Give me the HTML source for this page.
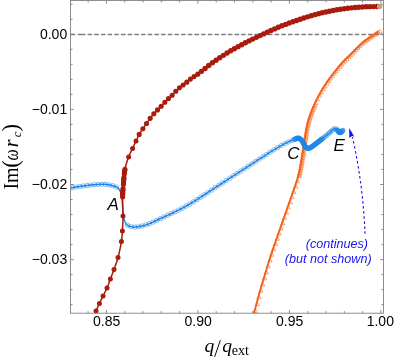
<!DOCTYPE html>
<html><head><meta charset="utf-8"><title>plot</title>
<style>html,body{margin:0;padding:0;background:#fff}svg{display:block;will-change:transform;transform:translateZ(0)}</style></head>
<body>
<svg width="395" height="361" viewBox="0 0 395 361">
<rect width="395" height="361" fill="#fff"/>
<defs><clipPath id="c"><rect x="70.5" y="0" width="313.0" height="313.2"/></clipPath></defs>
<path d="M70.50 34.45 H75.20 M77.80 34.45 H85.40 M87.60 34.45 H92.10 M94.28 34.45 H98.78 M100.96 34.45 H105.46 M107.64 34.45 H112.14 M114.32 34.45 H118.82 M121.00 34.45 H125.50 M127.68 34.45 H132.18 M134.36 34.45 H138.86 M141.04 34.45 H145.54 M147.72 34.45 H152.22 M154.40 34.45 H158.90 M161.08 34.45 H165.58 M167.76 34.45 H172.26 M174.44 34.45 H178.94 M181.12 34.45 H185.62 M187.80 34.45 H192.30 M194.48 34.45 H198.98 M201.16 34.45 H205.66 M207.84 34.45 H212.34 M214.52 34.45 H219.02 M221.20 34.45 H225.70 M227.88 34.45 H232.38 M234.56 34.45 H239.06 M241.24 34.45 H245.74 M247.92 34.45 H252.42 M254.60 34.45 H259.10 M261.28 34.45 H265.78 M267.96 34.45 H272.46 M274.64 34.45 H279.14 M281.32 34.45 H285.82 M288.00 34.45 H292.50 M294.68 34.45 H299.18 M301.36 34.45 H305.86 M308.04 34.45 H312.54 M314.72 34.45 H319.22 M321.40 34.45 H325.90 M328.08 34.45 H332.58 M334.76 34.45 H339.26 M341.44 34.45 H345.94 M348.12 34.45 H352.62 M354.80 34.45 H359.30 M361.48 34.45 H365.98 M368.16 34.45 H372.66 M374.84 34.45 H379.34 M381.52 34.45 H383.50" stroke="#7e7e7e" stroke-width="1.6" fill="none"/>
<g clip-path="url(#c)">
<path d="M254.00 313.20 L254.30 312.09 L254.60 310.97 L254.90 309.86 L255.20 308.74 L255.49 307.62 L255.79 306.50 L256.09 305.38 L256.39 304.26 L256.68 303.14 L256.98 302.02 L257.28 300.91 L257.58 299.79 L257.88 298.68 L258.18 297.57 L258.48 296.46 L258.78 295.36 L259.08 294.26 L259.39 293.17 L259.69 292.08 L260.00 291.00 L260.30 289.97 L260.59 288.94 L260.90 287.90 L261.20 286.86 L261.51 285.82 L261.82 284.78 L262.13 283.75 L262.44 282.71 L262.75 281.68 L263.05 280.66 L263.36 279.64 L263.67 278.64 L263.97 277.64 L264.28 276.65 L264.57 275.67 L264.87 274.71 L265.16 273.76 L265.45 272.82 L265.73 271.90 L266.00 271.00 L266.22 270.29 L266.43 269.58 L266.64 268.89 L266.84 268.22 L267.05 267.55 L267.25 266.88 L267.44 266.23 L267.64 265.58 L267.84 264.94 L268.03 264.31 L268.22 263.67 L268.42 263.04 L268.61 262.42 L268.80 261.79 L269.00 261.16 L269.19 260.54 L269.39 259.91 L269.59 259.27 L269.79 258.64 L270.00 258.00 L270.20 257.37 L270.41 256.75 L270.61 256.13 L270.81 255.51 L271.01 254.89 L271.22 254.28 L271.42 253.67 L271.62 253.06 L271.83 252.45 L272.04 251.84 L272.24 251.22 L272.45 250.61 L272.66 249.99 L272.87 249.37 L273.09 248.74 L273.31 248.10 L273.53 247.46 L273.75 246.82 L273.97 246.16 L274.20 245.50 L274.47 244.73 L274.74 243.95 L275.01 243.16 L275.29 242.37 L275.57 241.57 L275.85 240.77 L276.13 239.95 L276.42 239.14 L276.71 238.32 L277.00 237.49 L277.30 236.66 L277.59 235.82 L277.89 234.98 L278.19 234.14 L278.49 233.29 L278.79 232.44 L279.09 231.58 L279.39 230.72 L279.70 229.86 L280.00 229.00 L280.34 228.04 L280.68 227.07 L281.02 226.09 L281.37 225.10 L281.72 224.10 L282.07 223.09 L282.42 222.08 L282.78 221.06 L283.13 220.04 L283.49 219.02 L283.85 218.00 L284.21 216.97 L284.56 215.96 L284.92 214.94 L285.27 213.93 L285.62 212.93 L285.97 211.93 L286.32 210.94 L286.66 209.97 L287.00 209.00 L287.31 208.12 L287.62 207.24 L287.93 206.37 L288.24 205.51 L288.54 204.65 L288.85 203.79 L289.15 202.94 L289.46 202.09 L289.76 201.24 L290.06 200.40 L290.36 199.56 L290.66 198.72 L290.95 197.88 L291.25 197.04 L291.55 196.20 L291.84 195.37 L292.13 194.53 L292.42 193.69 L292.71 192.84 L293.00 192.00 L293.28 191.17 L293.57 190.35 L293.85 189.53 L294.14 188.71 L294.43 187.89 L294.72 187.08 L295.00 186.26 L295.29 185.45 L295.57 184.63 L295.85 183.82 L296.13 183.00 L296.40 182.18 L296.67 181.36 L296.94 180.53 L297.20 179.71 L297.45 178.88 L297.70 178.04 L297.94 177.20 L298.17 176.35 L298.40 175.50 L298.63 174.60 L298.85 173.70 L299.06 172.79 L299.27 171.87 L299.47 170.94 L299.67 170.01 L299.85 169.07 L300.04 168.13 L300.22 167.19 L300.39 166.25 L300.57 165.31 L300.73 164.37 L300.90 163.43 L301.06 162.50 L301.22 161.57 L301.38 160.64 L301.54 159.72 L301.69 158.80 L301.85 157.90 L302.00 157.00 L302.14 156.17 L302.28 155.35 L302.41 154.52 L302.54 153.70 L302.66 152.88 L302.78 152.07 L302.90 151.25 L303.02 150.44 L303.14 149.63 L303.25 148.83 L303.37 148.02 L303.48 147.23 L303.59 146.43 L303.71 145.64 L303.82 144.86 L303.93 144.07 L304.05 143.30 L304.16 142.53 L304.28 141.76 L304.40 141.00 L304.51 140.31 L304.62 139.63 L304.73 138.94 L304.84 138.25 L304.95 137.56 L305.06 136.87 L305.17 136.19 L305.28 135.51 L305.39 134.83 L305.50 134.16 L305.61 133.50 L305.72 132.84 L305.83 132.20 L305.94 131.56 L306.05 130.93 L306.16 130.32 L306.27 129.72 L306.38 129.13 L306.49 128.56 L306.60 128.00 L306.68 127.60 L306.76 127.22 L306.83 126.84 L306.90 126.48 L306.97 126.13 L307.04 125.78 L307.11 125.44 L307.18 125.11 L307.25 124.78 L307.33 124.45 L307.40 124.13 L307.47 123.80 L307.55 123.47 L307.63 123.14 L307.71 122.80 L307.80 122.46 L307.89 122.11 L307.99 121.75 L308.09 121.38 L308.20 121.00 L308.34 120.50 L308.49 120.00 L308.65 119.48 L308.81 118.96 L308.98 118.43 L309.15 117.89 L309.32 117.35 L309.50 116.80 L309.69 116.25 L309.88 115.69 L310.08 115.13 L310.28 114.56 L310.48 113.99 L310.69 113.42 L310.90 112.85 L311.11 112.28 L311.33 111.71 L311.55 111.14 L311.77 110.57 L312.00 110.00 L312.26 109.37 L312.52 108.73 L312.79 108.09 L313.06 107.44 L313.34 106.79 L313.63 106.14 L313.92 105.48 L314.21 104.82 L314.51 104.16 L314.81 103.50 L315.12 102.84 L315.43 102.18 L315.74 101.52 L316.06 100.87 L316.38 100.21 L316.70 99.56 L317.02 98.91 L317.35 98.27 L317.67 97.63 L318.00 97.00 L318.32 96.38 L318.65 95.76 L318.98 95.15 L319.31 94.53 L319.65 93.92 L319.99 93.31 L320.33 92.71 L320.67 92.10 L321.02 91.50 L321.36 90.89 L321.72 90.30 L322.07 89.70 L322.43 89.10 L322.79 88.51 L323.15 87.92 L323.51 87.33 L323.88 86.74 L324.25 86.16 L324.62 85.58 L325.00 85.00 L325.37 84.43 L325.75 83.86 L326.13 83.30 L326.52 82.74 L326.91 82.18 L327.30 81.63 L327.69 81.08 L328.08 80.53 L328.48 79.98 L328.88 79.43 L329.29 78.89 L329.69 78.34 L330.10 77.80 L330.51 77.26 L330.92 76.71 L331.33 76.17 L331.75 75.63 L332.16 75.09 L332.58 74.54 L333.00 74.00 L333.43 73.44 L333.87 72.88 L334.31 72.32 L334.75 71.75 L335.19 71.18 L335.64 70.61 L336.09 70.05 L336.54 69.48 L337.00 68.91 L337.45 68.35 L337.91 67.79 L338.36 67.23 L338.82 66.68 L339.28 66.13 L339.73 65.59 L340.19 65.06 L340.64 64.53 L341.10 64.01 L341.55 63.50 L342.00 63.00 L342.40 62.56 L342.81 62.12 L343.22 61.69 L343.63 61.26 L344.05 60.84 L344.46 60.42 L344.88 60.00 L345.29 59.59 L345.71 59.18 L346.12 58.78 L346.53 58.38 L346.94 57.98 L347.34 57.59 L347.74 57.21 L348.13 56.83 L348.52 56.45 L348.90 56.08 L349.28 55.72 L349.64 55.36 L350.00 55.00 L350.28 54.72 L350.54 54.46 L350.80 54.19 L351.06 53.94 L351.31 53.68 L351.56 53.44 L351.80 53.19 L352.04 52.95 L352.28 52.71 L352.52 52.47 L352.76 52.23 L352.99 52.00 L353.23 51.76 L353.47 51.52 L353.72 51.27 L353.96 51.03 L354.21 50.78 L354.47 50.52 L354.73 50.26 L355.00 50.00 L355.32 49.68 L355.65 49.35 L355.99 49.02 L356.33 48.68 L356.67 48.33 L357.02 47.98 L357.37 47.63 L357.72 47.27 L358.08 46.91 L358.44 46.56 L358.80 46.20 L359.16 45.85 L359.52 45.50 L359.88 45.15 L360.24 44.81 L360.59 44.47 L360.95 44.14 L361.30 43.82 L361.65 43.50 L362.00 43.20 L362.30 42.94 L362.61 42.68 L362.91 42.43 L363.21 42.19 L363.51 41.94 L363.82 41.70 L364.12 41.46 L364.42 41.23 L364.72 41.00 L365.02 40.77 L365.32 40.55 L365.62 40.32 L365.92 40.10 L366.22 39.88 L366.52 39.67 L366.81 39.45 L367.11 39.24 L367.41 39.02 L367.70 38.81 L368.00 38.60 L368.27 38.41 L368.55 38.21 L368.82 38.03 L369.10 37.84 L369.37 37.65 L369.64 37.47 L369.92 37.29 L370.19 37.11 L370.46 36.94 L370.73 36.76 L371.00 36.58 L371.27 36.41 L371.54 36.23 L371.81 36.06 L372.08 35.88 L372.35 35.71 L372.61 35.53 L372.88 35.36 L373.14 35.18 L373.40 35.00 L373.65 34.83 L373.89 34.66 L374.14 34.49 L374.38 34.32 L374.62 34.15 L374.86 33.98 L375.10 33.81 L375.34 33.64 L375.58 33.47 L375.82 33.30 L376.06 33.13 L376.30 32.96 L376.53 32.79 L376.77 32.62 L377.01 32.45 L377.25 32.28 L377.48 32.11 L377.72 31.94 L377.96 31.77 L378.20 31.60" fill="none" stroke="#f4611b" stroke-width="1.9" stroke-linejoin="round"/>
<path d="M255.40 308.72 L257.56 312.44 L253.24 312.44Z" fill="none" stroke="#f4611b" stroke-width="0.62" stroke-opacity="0.9"/>
<path d="M257.23 301.84 L259.39 305.57 L255.07 305.57Z" fill="none" stroke="#f4611b" stroke-width="0.62" stroke-opacity="0.9"/>
<path d="M259.06 295.02 L261.22 298.74 L256.90 298.74Z" fill="none" stroke="#f4611b" stroke-width="0.62" stroke-opacity="0.9"/>
<path d="M260.89 288.44 L263.05 292.16 L258.73 292.16Z" fill="none" stroke="#f4611b" stroke-width="0.62" stroke-opacity="0.9"/>
<path d="M262.72 282.18 L264.88 285.91 L260.56 285.91Z" fill="none" stroke="#f4611b" stroke-width="0.62" stroke-opacity="0.9"/>
<path d="M264.55 276.12 L266.71 279.85 L262.39 279.85Z" fill="none" stroke="#f4611b" stroke-width="0.62" stroke-opacity="0.9"/>
<path d="M266.38 270.13 L268.54 273.85 L264.22 273.85Z" fill="none" stroke="#f4611b" stroke-width="0.62" stroke-opacity="0.9"/>
<path d="M268.21 264.10 L270.37 267.82 L266.05 267.82Z" fill="none" stroke="#f4611b" stroke-width="0.62" stroke-opacity="0.9"/>
<path d="M270.04 258.14 L272.20 261.87 L267.88 261.87Z" fill="none" stroke="#f4611b" stroke-width="0.62" stroke-opacity="0.9"/>
<path d="M271.87 252.47 L274.03 256.20 L269.71 256.20Z" fill="none" stroke="#f4611b" stroke-width="0.62" stroke-opacity="0.9"/>
<path d="M273.70 247.04 L275.86 250.77 L271.54 250.77Z" fill="none" stroke="#f4611b" stroke-width="0.62" stroke-opacity="0.9"/>
<path d="M275.53 241.72 L277.69 245.44 L273.37 245.44Z" fill="none" stroke="#f4611b" stroke-width="0.62" stroke-opacity="0.9"/>
<path d="M277.36 236.49 L279.52 240.22 L275.20 240.22Z" fill="none" stroke="#f4611b" stroke-width="0.62" stroke-opacity="0.9"/>
<path d="M279.19 231.32 L281.35 235.04 L277.03 235.04Z" fill="none" stroke="#f4611b" stroke-width="0.62" stroke-opacity="0.9"/>
<path d="M281.02 226.12 L283.18 229.85 L278.86 229.85Z" fill="none" stroke="#f4611b" stroke-width="0.62" stroke-opacity="0.9"/>
<path d="M282.85 220.89 L285.01 224.62 L280.69 224.62Z" fill="none" stroke="#f4611b" stroke-width="0.62" stroke-opacity="0.9"/>
<path d="M284.68 215.66 L286.84 219.38 L282.52 219.38Z" fill="none" stroke="#f4611b" stroke-width="0.62" stroke-opacity="0.9"/>
<path d="M286.51 210.43 L288.67 214.15 L284.35 214.15Z" fill="none" stroke="#f4611b" stroke-width="0.62" stroke-opacity="0.9"/>
<path d="M288.34 205.22 L290.50 208.94 L286.18 208.94Z" fill="none" stroke="#f4611b" stroke-width="0.62" stroke-opacity="0.9"/>
<path d="M290.17 200.08 L292.33 203.80 L288.01 203.80Z" fill="none" stroke="#f4611b" stroke-width="0.62" stroke-opacity="0.9"/>
<path d="M292.00 194.94 L294.16 198.66 L289.84 198.66Z" fill="none" stroke="#f4611b" stroke-width="0.62" stroke-opacity="0.9"/>
<path d="M293.83 189.66 L295.99 193.39 L291.67 193.39Z" fill="none" stroke="#f4611b" stroke-width="0.62" stroke-opacity="0.9"/>
<path d="M295.66 184.41 L297.82 188.14 L293.50 188.14Z" fill="none" stroke="#f4611b" stroke-width="0.62" stroke-opacity="0.9"/>
<path d="M297.49 179.05 L299.65 182.77 L295.33 182.77Z" fill="none" stroke="#f4611b" stroke-width="0.62" stroke-opacity="0.9"/>
<path d="M315.79 100.87 L317.95 104.59 L313.63 104.59Z" fill="none" stroke="#f4611b" stroke-width="0.62" stroke-opacity="0.9"/>
<path d="M317.62 97.07 L319.78 100.79 L315.46 100.79Z" fill="none" stroke="#f4611b" stroke-width="0.62" stroke-opacity="0.9"/>
<path d="M319.45 93.52 L321.61 97.24 L317.29 97.24Z" fill="none" stroke="#f4611b" stroke-width="0.62" stroke-opacity="0.9"/>
<path d="M321.28 90.18 L323.44 93.91 L319.12 93.91Z" fill="none" stroke="#f4611b" stroke-width="0.62" stroke-opacity="0.9"/>
<path d="M323.11 87.05 L325.27 90.77 L320.95 90.77Z" fill="none" stroke="#f4611b" stroke-width="0.62" stroke-opacity="0.9"/>
<path d="M324.94 84.09 L327.10 87.81 L322.78 87.81Z" fill="none" stroke="#f4611b" stroke-width="0.62" stroke-opacity="0.9"/>
<path d="M326.77 81.29 L328.93 85.02 L324.61 85.02Z" fill="none" stroke="#f4611b" stroke-width="0.62" stroke-opacity="0.9"/>
<path d="M328.60 78.67 L330.76 82.40 L326.44 82.40Z" fill="none" stroke="#f4611b" stroke-width="0.62" stroke-opacity="0.9"/>
<path d="M330.43 76.17 L332.59 79.90 L328.27 79.90Z" fill="none" stroke="#f4611b" stroke-width="0.62" stroke-opacity="0.9"/>
<path d="M332.26 73.75 L334.42 77.48 L330.10 77.48Z" fill="none" stroke="#f4611b" stroke-width="0.62" stroke-opacity="0.9"/>
<path d="M334.09 71.37 L336.25 75.10 L331.93 75.10Z" fill="none" stroke="#f4611b" stroke-width="0.62" stroke-opacity="0.9"/>
<path d="M335.92 69.02 L338.08 72.75 L333.76 72.75Z" fill="none" stroke="#f4611b" stroke-width="0.62" stroke-opacity="0.9"/>
<path d="M337.75 66.72 L339.91 70.44 L335.59 70.44Z" fill="none" stroke="#f4611b" stroke-width="0.62" stroke-opacity="0.9"/>
<path d="M339.58 64.48 L341.74 68.20 L337.42 68.20Z" fill="none" stroke="#f4611b" stroke-width="0.62" stroke-opacity="0.9"/>
<path d="M341.41 62.32 L343.57 66.04 L339.25 66.04Z" fill="none" stroke="#f4611b" stroke-width="0.62" stroke-opacity="0.9"/>
<path d="M343.24 60.27 L345.40 63.99 L341.08 63.99Z" fill="none" stroke="#f4611b" stroke-width="0.62" stroke-opacity="0.9"/>
<path d="M345.07 58.36 L347.23 62.08 L342.91 62.08Z" fill="none" stroke="#f4611b" stroke-width="0.62" stroke-opacity="0.9"/>
<path d="M346.90 56.54 L349.06 60.27 L344.74 60.27Z" fill="none" stroke="#f4611b" stroke-width="0.62" stroke-opacity="0.9"/>
<path d="M348.73 54.77 L350.89 58.50 L346.57 58.50Z" fill="none" stroke="#f4611b" stroke-width="0.62" stroke-opacity="0.9"/>
<path d="M350.56 52.99 L352.72 56.71 L348.40 56.71Z" fill="none" stroke="#f4611b" stroke-width="0.62" stroke-opacity="0.9"/>
<path d="M352.39 51.15 L354.55 54.88 L350.23 54.88Z" fill="none" stroke="#f4611b" stroke-width="0.62" stroke-opacity="0.9"/>
<path d="M354.22 49.32 L356.38 53.04 L352.06 53.04Z" fill="none" stroke="#f4611b" stroke-width="0.62" stroke-opacity="0.9"/>
<path d="M356.05 47.50 L358.21 51.23 L353.89 51.23Z" fill="none" stroke="#f4611b" stroke-width="0.62" stroke-opacity="0.9"/>
<path d="M357.88 45.67 L360.04 49.39 L355.72 49.39Z" fill="none" stroke="#f4611b" stroke-width="0.62" stroke-opacity="0.9"/>
<path d="M359.71 43.84 L361.87 47.56 L357.55 47.56Z" fill="none" stroke="#f4611b" stroke-width="0.62" stroke-opacity="0.9"/>
<path d="M361.54 42.08 L363.70 45.81 L359.38 45.81Z" fill="none" stroke="#f4611b" stroke-width="0.62" stroke-opacity="0.9"/>
<path d="M363.37 40.47 L365.53 44.19 L361.21 44.19Z" fill="none" stroke="#f4611b" stroke-width="0.62" stroke-opacity="0.9"/>
<path d="M365.20 39.00 L367.36 42.72 L363.04 42.72Z" fill="none" stroke="#f4611b" stroke-width="0.62" stroke-opacity="0.9"/>
<path d="M367.03 37.63 L369.19 41.35 L364.87 41.35Z" fill="none" stroke="#f4611b" stroke-width="0.62" stroke-opacity="0.9"/>
<path d="M368.86 36.31 L371.02 40.03 L366.70 40.03Z" fill="none" stroke="#f4611b" stroke-width="0.62" stroke-opacity="0.9"/>
<path d="M370.69 35.06 L372.85 38.78 L368.53 38.78Z" fill="none" stroke="#f4611b" stroke-width="0.62" stroke-opacity="0.9"/>
<path d="M372.52 33.87 L374.68 37.59 L370.36 37.59Z" fill="none" stroke="#f4611b" stroke-width="0.62" stroke-opacity="0.9"/>
<path d="M374.35 32.65 L376.51 36.37 L372.19 36.37Z" fill="none" stroke="#f4611b" stroke-width="0.62" stroke-opacity="0.9"/>
<path d="M376.18 31.36 L378.34 35.09 L374.02 35.09Z" fill="none" stroke="#f4611b" stroke-width="0.62" stroke-opacity="0.9"/>
<path d="M378.01 30.05 L380.17 33.78 L375.85 33.78Z" fill="none" stroke="#f4611b" stroke-width="0.62" stroke-opacity="0.9"/>
<path d="M379.84 29.35 L382.00 33.07 L377.68 33.07Z" fill="none" stroke="#f4611b" stroke-width="0.62" stroke-opacity="0.9"/>
<path d="M298.97 174.10 L301.13 177.83 L296.82 177.83Z" fill="none" stroke="#f4611b" stroke-width="0.62" stroke-opacity="0.9"/>
<path d="M299.40 172.46 L301.56 176.18 L297.25 176.18Z" fill="none" stroke="#f4611b" stroke-width="0.62" stroke-opacity="0.9"/>
<path d="M299.80 170.80 L301.96 174.53 L297.64 174.53Z" fill="none" stroke="#f4611b" stroke-width="0.62" stroke-opacity="0.9"/>
<path d="M300.17 169.15 L302.33 172.87 L298.01 172.87Z" fill="none" stroke="#f4611b" stroke-width="0.62" stroke-opacity="0.9"/>
<path d="M300.52 167.48 L302.68 171.21 L298.36 171.21Z" fill="none" stroke="#f4611b" stroke-width="0.62" stroke-opacity="0.9"/>
<path d="M300.85 165.81 L303.01 169.54 L298.70 169.54Z" fill="none" stroke="#f4611b" stroke-width="0.62" stroke-opacity="0.9"/>
<path d="M301.17 164.14 L303.32 167.87 L299.01 167.87Z" fill="none" stroke="#f4611b" stroke-width="0.62" stroke-opacity="0.9"/>
<path d="M301.47 162.47 L303.63 166.20 L299.32 166.20Z" fill="none" stroke="#f4611b" stroke-width="0.62" stroke-opacity="0.9"/>
<path d="M301.77 160.80 L303.92 164.52 L299.61 164.52Z" fill="none" stroke="#f4611b" stroke-width="0.62" stroke-opacity="0.9"/>
<path d="M302.06 159.12 L304.21 162.85 L299.90 162.85Z" fill="none" stroke="#f4611b" stroke-width="0.62" stroke-opacity="0.9"/>
<path d="M302.34 157.45 L304.50 161.17 L300.18 161.17Z" fill="none" stroke="#f4611b" stroke-width="0.62" stroke-opacity="0.9"/>
<path d="M302.63 155.77 L304.78 159.49 L300.47 159.49Z" fill="none" stroke="#f4611b" stroke-width="0.62" stroke-opacity="0.9"/>
<path d="M302.91 154.09 L305.07 157.82 L300.76 157.82Z" fill="none" stroke="#f4611b" stroke-width="0.62" stroke-opacity="0.9"/>
<path d="M303.19 152.42 L305.34 156.14 L301.03 156.14Z" fill="none" stroke="#f4611b" stroke-width="0.62" stroke-opacity="0.9"/>
<path d="M303.45 150.74 L305.60 154.46 L301.29 154.46Z" fill="none" stroke="#f4611b" stroke-width="0.62" stroke-opacity="0.9"/>
<path d="M303.70 149.06 L305.85 152.78 L301.54 152.78Z" fill="none" stroke="#f4611b" stroke-width="0.62" stroke-opacity="0.9"/>
<path d="M303.94 147.37 L306.10 151.10 L301.78 151.10Z" fill="none" stroke="#f4611b" stroke-width="0.62" stroke-opacity="0.9"/>
<path d="M304.18 145.69 L306.34 149.41 L302.02 149.41Z" fill="none" stroke="#f4611b" stroke-width="0.62" stroke-opacity="0.9"/>
<path d="M304.42 144.01 L306.57 147.73 L302.26 147.73Z" fill="none" stroke="#f4611b" stroke-width="0.62" stroke-opacity="0.9"/>
<path d="M304.66 142.32 L306.82 146.05 L302.50 146.05Z" fill="none" stroke="#f4611b" stroke-width="0.62" stroke-opacity="0.9"/>
<path d="M304.91 140.64 L307.06 144.37 L302.75 144.37Z" fill="none" stroke="#f4611b" stroke-width="0.62" stroke-opacity="0.9"/>
<path d="M305.17 138.96 L307.32 142.69 L303.01 142.69Z" fill="none" stroke="#f4611b" stroke-width="0.62" stroke-opacity="0.9"/>
<path d="M305.43 137.28 L307.59 141.01 L303.28 141.01Z" fill="none" stroke="#f4611b" stroke-width="0.62" stroke-opacity="0.9"/>
<path d="M305.70 135.60 L307.86 139.33 L303.55 139.33Z" fill="none" stroke="#f4611b" stroke-width="0.62" stroke-opacity="0.9"/>
<path d="M305.97 133.93 L308.13 137.65 L303.82 137.65Z" fill="none" stroke="#f4611b" stroke-width="0.62" stroke-opacity="0.9"/>
<path d="M306.24 132.25 L308.40 135.97 L304.09 135.97Z" fill="none" stroke="#f4611b" stroke-width="0.62" stroke-opacity="0.9"/>
<path d="M306.52 130.57 L308.68 134.30 L304.37 134.30Z" fill="none" stroke="#f4611b" stroke-width="0.62" stroke-opacity="0.9"/>
<path d="M306.81 128.90 L308.97 132.62 L304.66 132.62Z" fill="none" stroke="#f4611b" stroke-width="0.62" stroke-opacity="0.9"/>
<path d="M307.12 127.22 L309.27 130.95 L304.96 130.95Z" fill="none" stroke="#f4611b" stroke-width="0.62" stroke-opacity="0.9"/>
<path d="M307.44 125.55 L309.59 129.28 L305.28 129.28Z" fill="none" stroke="#f4611b" stroke-width="0.62" stroke-opacity="0.9"/>
<path d="M307.77 123.89 L309.93 127.61 L305.62 127.61Z" fill="none" stroke="#f4611b" stroke-width="0.62" stroke-opacity="0.9"/>
<path d="M308.12 122.22 L310.28 125.95 L305.96 125.95Z" fill="none" stroke="#f4611b" stroke-width="0.62" stroke-opacity="0.9"/>
<path d="M308.51 120.57 L310.67 124.29 L306.35 124.29Z" fill="none" stroke="#f4611b" stroke-width="0.62" stroke-opacity="0.9"/>
<path d="M308.95 118.93 L311.11 122.65 L306.79 122.65Z" fill="none" stroke="#f4611b" stroke-width="0.62" stroke-opacity="0.9"/>
<path d="M309.43 117.30 L311.59 121.02 L307.27 121.02Z" fill="none" stroke="#f4611b" stroke-width="0.62" stroke-opacity="0.9"/>
<path d="M309.94 115.67 L312.09 119.40 L307.78 119.40Z" fill="none" stroke="#f4611b" stroke-width="0.62" stroke-opacity="0.9"/>
<path d="M310.47 114.06 L312.63 117.78 L308.31 117.78Z" fill="none" stroke="#f4611b" stroke-width="0.62" stroke-opacity="0.9"/>
<path d="M311.03 112.45 L313.18 116.18 L308.87 116.18Z" fill="none" stroke="#f4611b" stroke-width="0.62" stroke-opacity="0.9"/>
<path d="M311.60 110.85 L313.76 114.58 L309.45 114.58Z" fill="none" stroke="#f4611b" stroke-width="0.62" stroke-opacity="0.9"/>
<path d="M312.20 109.26 L314.36 112.99 L310.05 112.99Z" fill="none" stroke="#f4611b" stroke-width="0.62" stroke-opacity="0.9"/>
<path d="M312.83 107.68 L314.98 111.41 L310.67 111.41Z" fill="none" stroke="#f4611b" stroke-width="0.62" stroke-opacity="0.9"/>
<path d="M313.47 106.11 L315.63 109.83 L311.32 109.83Z" fill="none" stroke="#f4611b" stroke-width="0.62" stroke-opacity="0.9"/>
<path d="M314.14 104.54 L316.30 108.27 L311.98 108.27Z" fill="none" stroke="#f4611b" stroke-width="0.62" stroke-opacity="0.9"/>
<path d="M314.82 102.99 L316.98 106.71 L312.67 106.71Z" fill="none" stroke="#f4611b" stroke-width="0.62" stroke-opacity="0.9"/>
<path d="M70.70 187.90 L71.32 187.80 L71.94 187.71 L72.56 187.61 L73.18 187.51 L73.80 187.42 L74.41 187.32 L75.02 187.22 L75.64 187.12 L76.25 187.02 L76.87 186.92 L77.49 186.83 L78.11 186.73 L78.73 186.63 L79.36 186.54 L79.99 186.45 L80.62 186.35 L81.26 186.26 L81.90 186.17 L82.55 186.09 L83.20 186.00 L83.93 185.91 L84.68 185.81 L85.45 185.71 L86.23 185.62 L87.01 185.52 L87.81 185.42 L88.61 185.33 L89.42 185.23 L90.23 185.14 L91.03 185.05 L91.83 184.96 L92.62 184.88 L93.40 184.80 L94.17 184.73 L94.93 184.66 L95.67 184.59 L96.39 184.53 L97.08 184.48 L97.76 184.44 L98.40 184.40 L98.84 184.38 L99.26 184.36 L99.68 184.33 L100.09 184.32 L100.48 184.30 L100.87 184.28 L101.25 184.27 L101.63 184.26 L102.00 184.25 L102.37 184.24 L102.73 184.24 L103.09 184.24 L103.45 184.25 L103.81 184.25 L104.17 184.27 L104.53 184.28 L104.89 184.31 L105.25 184.33 L105.62 184.36 L106.00 184.40 L106.38 184.44 L106.77 184.49 L107.17 184.54 L107.56 184.60 L107.96 184.66 L108.36 184.72 L108.75 184.79 L109.15 184.86 L109.55 184.94 L109.94 185.02 L110.34 185.10 L110.72 185.19 L111.11 185.28 L111.49 185.38 L111.86 185.47 L112.22 185.57 L112.58 185.68 L112.93 185.78 L113.27 185.89 L113.60 186.00 L113.86 186.09 L114.12 186.18 L114.37 186.27 L114.62 186.36 L114.87 186.45 L115.12 186.54 L115.36 186.64 L115.60 186.73 L115.83 186.83 L116.06 186.93 L116.29 187.04 L116.51 187.15 L116.72 187.26 L116.94 187.38 L117.14 187.50 L117.35 187.63 L117.54 187.76 L117.73 187.90 L117.92 188.05 L118.10 188.20 L118.27 188.35 L118.43 188.50 L118.58 188.66 L118.73 188.82 L118.88 188.99 L119.02 189.16 L119.15 189.33 L119.28 189.51 L119.41 189.69 L119.53 189.88 L119.65 190.07 L119.77 190.27 L119.88 190.47 L119.99 190.67 L120.10 190.88 L120.20 191.09 L120.31 191.31 L120.41 191.54 L120.50 191.77 L120.60 192.00 L120.72 192.32 L120.84 192.66 L120.95 193.00 L121.05 193.36 L121.14 193.73 L121.23 194.10 L121.31 194.49 L121.38 194.88 L121.46 195.28 L121.52 195.69 L121.59 196.10 L121.65 196.52 L121.71 196.94 L121.77 197.37 L121.82 197.80 L121.88 198.24 L121.93 198.68 L121.99 199.12 L122.04 199.56 L122.10 200.00 L122.17 200.55 L122.23 201.11 L122.29 201.70 L122.34 202.29 L122.39 202.90 L122.43 203.52 L122.47 204.14 L122.51 204.78 L122.55 205.41 L122.58 206.05 L122.62 206.68 L122.66 207.31 L122.69 207.94 L122.73 208.56 L122.77 209.17 L122.81 209.77 L122.85 210.35 L122.90 210.92 L122.95 211.47 L123.00 212.00 L123.04 212.39 L123.08 212.78 L123.11 213.16 L123.15 213.54 L123.18 213.91 L123.21 214.27 L123.24 214.63 L123.28 214.98 L123.31 215.33 L123.35 215.68 L123.39 216.02 L123.43 216.36 L123.48 216.70 L123.53 217.03 L123.59 217.36 L123.66 217.69 L123.73 218.02 L123.81 218.35 L123.90 218.67 L124.00 219.00 L124.10 219.31 L124.21 219.63 L124.31 219.95 L124.42 220.28 L124.54 220.60 L124.66 220.92 L124.78 221.24 L124.91 221.56 L125.04 221.87 L125.18 222.18 L125.33 222.49 L125.48 222.78 L125.64 223.07 L125.81 223.35 L125.99 223.62 L126.17 223.88 L126.36 224.13 L126.57 224.37 L126.78 224.59 L127.00 224.80 L127.23 224.99 L127.47 225.17 L127.72 225.35 L127.98 225.51 L128.25 225.66 L128.53 225.81 L128.82 225.94 L129.11 226.07 L129.42 226.18 L129.72 226.29 L130.04 226.39 L130.35 226.49 L130.67 226.58 L131.00 226.65 L131.33 226.73 L131.66 226.79 L131.99 226.85 L132.33 226.91 L132.66 226.96 L133.00 227.00 L133.41 227.04 L133.82 227.07 L134.25 227.08 L134.68 227.08 L135.12 227.07 L135.57 227.04 L136.03 227.01 L136.49 226.97 L136.95 226.91 L137.42 226.85 L137.89 226.79 L138.35 226.71 L138.82 226.63 L139.29 226.55 L139.75 226.46 L140.21 226.37 L140.67 226.28 L141.12 226.19 L141.56 226.09 L142.00 226.00 L142.41 225.91 L142.82 225.81 L143.23 225.71 L143.63 225.60 L144.03 225.49 L144.43 225.38 L144.82 225.26 L145.21 225.14 L145.61 225.01 L146.00 224.88 L146.39 224.75 L146.78 224.61 L147.18 224.47 L147.57 224.33 L147.97 224.18 L148.37 224.03 L148.77 223.88 L149.17 223.72 L149.59 223.56 L150.00 223.40 L150.48 223.21 L150.96 223.01 L151.45 222.80 L151.94 222.59 L152.44 222.37 L152.93 222.15 L153.43 221.92 L153.93 221.68 L154.44 221.45 L154.94 221.21 L155.45 220.97 L155.96 220.72 L156.46 220.48 L156.97 220.23 L157.48 219.99 L157.99 219.75 L158.49 219.51 L159.00 219.27 L159.50 219.03 L160.00 218.80 L160.50 218.57 L161.00 218.34 L161.50 218.11 L161.99 217.89 L162.49 217.66 L162.99 217.43 L163.49 217.20 L163.98 216.98 L164.48 216.75 L164.98 216.52 L165.48 216.30 L165.98 216.07 L166.47 215.84 L166.97 215.61 L167.48 215.38 L167.98 215.14 L168.48 214.91 L168.99 214.68 L169.49 214.44 L170.00 214.20 L170.53 213.95 L171.07 213.70 L171.60 213.45 L172.14 213.20 L172.69 212.94 L173.23 212.69 L173.77 212.43 L174.32 212.18 L174.86 211.92 L175.41 211.66 L175.96 211.40 L176.50 211.14 L177.04 210.88 L177.59 210.62 L178.13 210.35 L178.67 210.08 L179.21 209.82 L179.74 209.55 L180.27 209.27 L180.80 209.00 L181.32 208.73 L181.83 208.45 L182.35 208.18 L182.86 207.90 L183.38 207.62 L183.89 207.34 L184.40 207.06 L184.91 206.77 L185.42 206.49 L185.92 206.20 L186.43 205.91 L186.93 205.62 L187.43 205.33 L187.93 205.05 L188.43 204.75 L188.93 204.46 L189.43 204.17 L189.92 203.88 L190.41 203.59 L190.90 203.30 L191.36 203.02 L191.82 202.75 L192.26 202.48 L192.70 202.21 L193.13 201.95 L193.56 201.68 L193.99 201.42 L194.41 201.16 L194.84 200.89 L195.27 200.62 L195.70 200.35 L196.13 200.07 L196.58 199.79 L197.03 199.50 L197.49 199.21 L197.96 198.90 L198.45 198.59 L198.95 198.27 L199.47 197.94 L200.00 197.60 L200.83 197.07 L201.70 196.51 L202.58 195.94 L203.50 195.34 L204.44 194.73 L205.40 194.11 L206.38 193.47 L207.38 192.81 L208.41 192.14 L209.44 191.46 L210.49 190.78 L211.56 190.08 L212.64 189.37 L213.73 188.66 L214.82 187.94 L215.93 187.22 L217.04 186.49 L218.16 185.76 L219.28 185.03 L220.40 184.30 L221.78 183.40 L223.20 182.48 L224.64 181.54 L226.10 180.59 L227.59 179.62 L229.09 178.64 L230.61 177.65 L232.15 176.65 L233.69 175.65 L235.25 174.64 L236.82 173.62 L238.38 172.60 L239.95 171.58 L241.53 170.57 L243.09 169.55 L244.65 168.55 L246.21 167.54 L247.75 166.55 L249.28 165.57 L250.80 164.60 L252.29 163.65 L253.81 162.67 L255.35 161.68 L256.91 160.67 L258.48 159.66 L260.06 158.63 L261.64 157.61 L263.23 156.59 L264.80 155.58 L266.36 154.58 L267.89 153.60 L269.41 152.64 L270.89 151.70 L272.34 150.79 L273.75 149.92 L275.12 149.08 L276.43 148.29 L277.68 147.54 L278.88 146.84 L280.00 146.20 L280.61 145.86 L281.21 145.53 L281.79 145.21 L282.36 144.91 L282.91 144.61 L283.46 144.33 L283.99 144.06 L284.50 143.79 L285.01 143.54 L285.51 143.30 L285.99 143.06 L286.47 142.83 L286.94 142.61 L287.39 142.39 L287.84 142.18 L288.29 141.98 L288.72 141.78 L289.16 141.58 L289.58 141.39 L290.00 141.20 L290.29 141.07 L290.57 140.95 L290.85 140.83 L291.12 140.71 L291.39 140.60 L291.65 140.49 L291.91 140.38 L292.17 140.28 L292.42 140.18 L292.67 140.08 L292.91 139.99 L293.15 139.89 L293.39 139.80 L293.63 139.71 L293.86 139.62 L294.09 139.54 L294.32 139.45 L294.55 139.37 L294.78 139.28 L295.00 139.20 L295.18 139.13 L295.35 139.06 L295.52 138.99 L295.69 138.91 L295.85 138.83 L296.02 138.75 L296.18 138.67 L296.34 138.60 L296.50 138.52 L296.66 138.45 L296.81 138.38 L296.97 138.32 L297.12 138.26 L297.28 138.21 L297.43 138.17 L297.59 138.14 L297.74 138.11 L297.89 138.10 L298.05 138.09 L298.20 138.10 L298.36 138.12 L298.51 138.15 L298.67 138.19 L298.83 138.24 L298.99 138.30 L299.15 138.36 L299.30 138.44 L299.46 138.52 L299.62 138.60 L299.77 138.69 L299.92 138.79 L300.08 138.89 L300.23 139.00 L300.37 139.11 L300.52 139.22 L300.66 139.33 L300.80 139.45 L300.94 139.57 L301.07 139.68 L301.20 139.80 L301.33 139.93 L301.46 140.06 L301.59 140.20 L301.71 140.34 L301.83 140.49 L301.94 140.64 L302.06 140.80 L302.17 140.96 L302.28 141.12 L302.38 141.28 L302.49 141.45 L302.59 141.62 L302.69 141.79 L302.79 141.97 L302.89 142.14 L302.99 142.31 L303.10 142.48 L303.20 142.66 L303.30 142.83 L303.40 143.00 L303.51 143.18 L303.61 143.37 L303.71 143.56 L303.80 143.76 L303.90 143.96 L303.99 144.17 L304.08 144.37 L304.18 144.58 L304.27 144.79 L304.36 144.99 L304.45 145.20 L304.54 145.40 L304.64 145.59 L304.74 145.79 L304.84 145.97 L304.94 146.16 L305.05 146.33 L305.16 146.50 L305.28 146.65 L305.40 146.80 L305.50 146.92 L305.61 147.04 L305.72 147.15 L305.83 147.27 L305.94 147.38 L306.05 147.49 L306.17 147.60 L306.29 147.70 L306.40 147.80 L306.52 147.90 L306.65 147.99 L306.77 148.08 L306.89 148.16 L307.02 148.23 L307.15 148.30 L307.27 148.35 L307.40 148.40 L307.53 148.45 L307.67 148.48 L307.80 148.50 L307.95 148.51 L308.09 148.51 L308.24 148.50 L308.39 148.48 L308.55 148.45 L308.70 148.41 L308.86 148.36 L309.01 148.31 L309.17 148.25 L309.33 148.18 L309.50 148.10 L309.66 148.03 L309.82 147.94 L309.99 147.86 L310.15 147.77 L310.32 147.67 L310.49 147.58 L310.66 147.49 L310.83 147.39 L311.00 147.30 L311.23 147.17 L311.46 147.03 L311.70 146.88 L311.93 146.73 L312.17 146.57 L312.41 146.40 L312.65 146.22 L312.89 146.04 L313.13 145.85 L313.38 145.66 L313.63 145.47 L313.88 145.27 L314.14 145.07 L314.39 144.86 L314.65 144.65 L314.92 144.44 L315.18 144.23 L315.45 144.02 L315.72 143.81 L316.00 143.60 L316.36 143.33 L316.73 143.05 L317.11 142.76 L317.50 142.46 L317.90 142.16 L318.31 141.85 L318.72 141.54 L319.13 141.22 L319.55 140.90 L319.97 140.58 L320.39 140.25 L320.80 139.93 L321.22 139.60 L321.64 139.28 L322.05 138.96 L322.45 138.64 L322.85 138.32 L323.24 138.01 L323.63 137.70 L324.00 137.40 L324.32 137.14 L324.65 136.87 L324.97 136.60 L325.29 136.34 L325.61 136.07 L325.93 135.80 L326.24 135.53 L326.55 135.27 L326.86 135.00 L327.17 134.74 L327.47 134.48 L327.77 134.22 L328.06 133.97 L328.36 133.71 L328.64 133.47 L328.92 133.22 L329.20 132.98 L329.47 132.75 L329.74 132.52 L330.00 132.30 L330.19 132.13 L330.38 131.97 L330.57 131.80 L330.75 131.64 L330.93 131.47 L331.11 131.31 L331.29 131.14 L331.46 130.98 L331.64 130.83 L331.81 130.67 L331.97 130.52 L332.14 130.37 L332.30 130.23 L332.46 130.09 L332.62 129.96 L332.78 129.84 L332.94 129.72 L333.09 129.60 L333.25 129.50 L333.40 129.40 L333.50 129.34 L333.60 129.27 L333.70 129.21 L333.80 129.15 L333.90 129.09 L334.00 129.03 L334.09 128.97 L334.19 128.92 L334.28 128.87 L334.38 128.82 L334.47 128.78 L334.56 128.74 L334.65 128.70 L334.75 128.67 L334.84 128.64 L334.93 128.62 L335.02 128.61 L335.11 128.60 L335.21 128.60 L335.30 128.60 L335.40 128.61 L335.49 128.63 L335.59 128.66 L335.69 128.69 L335.79 128.73 L335.89 128.78 L335.98 128.83 L336.08 128.89 L336.18 128.95 L336.28 129.02 L336.37 129.09 L336.47 129.16 L336.56 129.24 L336.66 129.31 L336.75 129.39 L336.84 129.47 L336.93 129.56 L337.02 129.64 L337.11 129.72 L337.20 129.80 L337.30 129.90 L337.40 130.01 L337.49 130.12 L337.58 130.25 L337.67 130.38 L337.76 130.51 L337.84 130.65 L337.93 130.79 L338.01 130.93 L338.10 131.08 L338.18 131.22 L338.27 131.35 L338.36 131.49 L338.44 131.61 L338.53 131.74 L338.62 131.85 L338.71 131.95 L338.80 132.05 L338.90 132.13 L339.00 132.20 L339.08 132.24 L339.15 132.29 L339.23 132.33 L339.31 132.36 L339.39 132.39 L339.47 132.43 L339.55 132.45 L339.64 132.48 L339.72 132.50 L339.80 132.51 L339.89 132.53 L339.97 132.54 L340.05 132.55 L340.13 132.55 L340.21 132.55 L340.29 132.55 L340.37 132.54 L340.45 132.53 L340.53 132.52 L340.60 132.50 L340.68 132.48 L340.75 132.44 L340.83 132.40 L340.90 132.36 L340.98 132.31 L341.05 132.25 L341.12 132.19 L341.20 132.13 L341.27 132.06 L341.34 131.99 L341.41 131.92 L341.47 131.85 L341.54 131.78 L341.61 131.70 L341.68 131.63 L341.74 131.56 L341.81 131.49 L341.87 131.42 L341.94 131.36 L342.00 131.30 L342.05 131.25 L342.11 131.20 L342.16 131.15 L342.21 131.10 L342.26 131.05 L342.32 131.00 L342.37 130.95 L342.42 130.90 L342.46 130.85 L342.51 130.80 L342.56 130.75 L342.61 130.70 L342.66 130.65 L342.71 130.60 L342.75 130.55 L342.80 130.50 L342.85 130.45 L342.90 130.40 L342.95 130.35 L343.00 130.30" fill="none" stroke="#1c84e7" stroke-width="1.55" stroke-linejoin="round"/>
<circle cx="72.50" cy="187.62" r="2.2" fill="none" stroke="#1c84e7" stroke-width="0.6" stroke-opacity="0.9"/>
<circle cx="76.16" cy="187.04" r="2.2" fill="none" stroke="#1c84e7" stroke-width="0.6" stroke-opacity="0.9"/>
<circle cx="79.82" cy="186.47" r="2.2" fill="none" stroke="#1c84e7" stroke-width="0.6" stroke-opacity="0.9"/>
<circle cx="83.48" cy="185.96" r="2.2" fill="none" stroke="#1c84e7" stroke-width="0.6" stroke-opacity="0.9"/>
<circle cx="87.14" cy="185.50" r="2.2" fill="none" stroke="#1c84e7" stroke-width="0.6" stroke-opacity="0.9"/>
<circle cx="90.80" cy="185.08" r="2.2" fill="none" stroke="#1c84e7" stroke-width="0.6" stroke-opacity="0.9"/>
<circle cx="94.46" cy="184.70" r="2.2" fill="none" stroke="#1c84e7" stroke-width="0.6" stroke-opacity="0.9"/>
<circle cx="98.12" cy="184.42" r="2.2" fill="none" stroke="#1c84e7" stroke-width="0.6" stroke-opacity="0.9"/>
<circle cx="101.78" cy="184.25" r="2.2" fill="none" stroke="#1c84e7" stroke-width="0.6" stroke-opacity="0.9"/>
<circle cx="105.44" cy="184.35" r="2.2" fill="none" stroke="#1c84e7" stroke-width="0.6" stroke-opacity="0.9"/>
<circle cx="109.10" cy="184.85" r="2.2" fill="none" stroke="#1c84e7" stroke-width="0.6" stroke-opacity="0.9"/>
<circle cx="112.76" cy="185.73" r="2.2" fill="none" stroke="#1c84e7" stroke-width="0.6" stroke-opacity="0.9"/>
<circle cx="116.42" cy="187.11" r="2.2" fill="none" stroke="#1c84e7" stroke-width="0.6" stroke-opacity="0.9"/>
<circle cx="127.40" cy="225.12" r="2.2" fill="none" stroke="#1c84e7" stroke-width="0.6" stroke-opacity="0.9"/>
<circle cx="131.06" cy="226.67" r="2.2" fill="none" stroke="#1c84e7" stroke-width="0.6" stroke-opacity="0.9"/>
<circle cx="134.72" cy="227.08" r="2.2" fill="none" stroke="#1c84e7" stroke-width="0.6" stroke-opacity="0.9"/>
<circle cx="138.38" cy="226.71" r="2.2" fill="none" stroke="#1c84e7" stroke-width="0.6" stroke-opacity="0.9"/>
<circle cx="142.04" cy="225.99" r="2.2" fill="none" stroke="#1c84e7" stroke-width="0.6" stroke-opacity="0.9"/>
<circle cx="145.70" cy="224.98" r="2.2" fill="none" stroke="#1c84e7" stroke-width="0.6" stroke-opacity="0.9"/>
<circle cx="149.36" cy="223.65" r="2.2" fill="none" stroke="#1c84e7" stroke-width="0.6" stroke-opacity="0.9"/>
<circle cx="153.02" cy="222.11" r="2.2" fill="none" stroke="#1c84e7" stroke-width="0.6" stroke-opacity="0.9"/>
<circle cx="156.68" cy="220.38" r="2.2" fill="none" stroke="#1c84e7" stroke-width="0.6" stroke-opacity="0.9"/>
<circle cx="160.34" cy="218.64" r="2.2" fill="none" stroke="#1c84e7" stroke-width="0.6" stroke-opacity="0.9"/>
<circle cx="164.00" cy="216.97" r="2.2" fill="none" stroke="#1c84e7" stroke-width="0.6" stroke-opacity="0.9"/>
<circle cx="167.66" cy="215.29" r="2.2" fill="none" stroke="#1c84e7" stroke-width="0.6" stroke-opacity="0.9"/>
<circle cx="171.32" cy="213.58" r="2.2" fill="none" stroke="#1c84e7" stroke-width="0.6" stroke-opacity="0.9"/>
<circle cx="174.98" cy="211.87" r="2.2" fill="none" stroke="#1c84e7" stroke-width="0.6" stroke-opacity="0.9"/>
<circle cx="178.64" cy="210.10" r="2.2" fill="none" stroke="#1c84e7" stroke-width="0.6" stroke-opacity="0.9"/>
<circle cx="182.30" cy="208.21" r="2.2" fill="none" stroke="#1c84e7" stroke-width="0.6" stroke-opacity="0.9"/>
<circle cx="185.96" cy="206.18" r="2.2" fill="none" stroke="#1c84e7" stroke-width="0.6" stroke-opacity="0.9"/>
<circle cx="189.62" cy="204.06" r="2.2" fill="none" stroke="#1c84e7" stroke-width="0.6" stroke-opacity="0.9"/>
<circle cx="193.28" cy="201.86" r="2.2" fill="none" stroke="#1c84e7" stroke-width="0.6" stroke-opacity="0.9"/>
<circle cx="196.94" cy="199.56" r="2.2" fill="none" stroke="#1c84e7" stroke-width="0.6" stroke-opacity="0.9"/>
<circle cx="200.60" cy="197.22" r="2.2" fill="none" stroke="#1c84e7" stroke-width="0.6" stroke-opacity="0.9"/>
<circle cx="204.26" cy="194.85" r="2.2" fill="none" stroke="#1c84e7" stroke-width="0.6" stroke-opacity="0.9"/>
<circle cx="207.92" cy="192.46" r="2.2" fill="none" stroke="#1c84e7" stroke-width="0.6" stroke-opacity="0.9"/>
<circle cx="211.58" cy="190.06" r="2.2" fill="none" stroke="#1c84e7" stroke-width="0.6" stroke-opacity="0.9"/>
<circle cx="215.24" cy="187.67" r="2.2" fill="none" stroke="#1c84e7" stroke-width="0.6" stroke-opacity="0.9"/>
<circle cx="218.90" cy="185.28" r="2.2" fill="none" stroke="#1c84e7" stroke-width="0.6" stroke-opacity="0.9"/>
<circle cx="222.56" cy="182.90" r="2.2" fill="none" stroke="#1c84e7" stroke-width="0.6" stroke-opacity="0.9"/>
<circle cx="226.22" cy="180.51" r="2.2" fill="none" stroke="#1c84e7" stroke-width="0.6" stroke-opacity="0.9"/>
<circle cx="229.88" cy="178.13" r="2.2" fill="none" stroke="#1c84e7" stroke-width="0.6" stroke-opacity="0.9"/>
<circle cx="233.54" cy="175.75" r="2.2" fill="none" stroke="#1c84e7" stroke-width="0.6" stroke-opacity="0.9"/>
<circle cx="237.20" cy="173.37" r="2.2" fill="none" stroke="#1c84e7" stroke-width="0.6" stroke-opacity="0.9"/>
<circle cx="240.86" cy="171.00" r="2.2" fill="none" stroke="#1c84e7" stroke-width="0.6" stroke-opacity="0.9"/>
<circle cx="244.52" cy="168.63" r="2.2" fill="none" stroke="#1c84e7" stroke-width="0.6" stroke-opacity="0.9"/>
<circle cx="248.18" cy="166.28" r="2.2" fill="none" stroke="#1c84e7" stroke-width="0.6" stroke-opacity="0.9"/>
<circle cx="251.84" cy="163.93" r="2.2" fill="none" stroke="#1c84e7" stroke-width="0.6" stroke-opacity="0.9"/>
<circle cx="255.50" cy="161.58" r="2.2" fill="none" stroke="#1c84e7" stroke-width="0.6" stroke-opacity="0.9"/>
<circle cx="259.16" cy="159.22" r="2.2" fill="none" stroke="#1c84e7" stroke-width="0.6" stroke-opacity="0.9"/>
<circle cx="262.82" cy="156.85" r="2.2" fill="none" stroke="#1c84e7" stroke-width="0.6" stroke-opacity="0.9"/>
<circle cx="266.48" cy="154.50" r="2.2" fill="none" stroke="#1c84e7" stroke-width="0.6" stroke-opacity="0.9"/>
<circle cx="270.14" cy="152.18" r="2.2" fill="none" stroke="#1c84e7" stroke-width="0.6" stroke-opacity="0.9"/>
<circle cx="273.80" cy="149.89" r="2.2" fill="none" stroke="#1c84e7" stroke-width="0.6" stroke-opacity="0.9"/>
<circle cx="277.46" cy="147.67" r="2.2" fill="none" stroke="#1c84e7" stroke-width="0.6" stroke-opacity="0.9"/>
<circle cx="281.12" cy="145.58" r="2.2" fill="none" stroke="#1c84e7" stroke-width="0.6" stroke-opacity="0.9"/>
<circle cx="284.78" cy="143.66" r="2.2" fill="none" stroke="#1c84e7" stroke-width="0.6" stroke-opacity="0.9"/>
<circle cx="288.44" cy="141.91" r="2.2" fill="none" stroke="#1c84e7" stroke-width="0.6" stroke-opacity="0.9"/>
<circle cx="292.10" cy="140.31" r="2.2" fill="none" stroke="#1c84e7" stroke-width="0.6" stroke-opacity="0.9"/>
<circle cx="294.09" cy="139.54" r="2.2" fill="none" stroke="#1c84e7" stroke-width="0.6" stroke-opacity="0.9"/>
<circle cx="294.61" cy="139.35" r="2.2" fill="none" stroke="#1c84e7" stroke-width="0.6" stroke-opacity="0.9"/>
<circle cx="295.12" cy="139.15" r="2.2" fill="none" stroke="#1c84e7" stroke-width="0.6" stroke-opacity="0.9"/>
<circle cx="295.63" cy="138.93" r="2.2" fill="none" stroke="#1c84e7" stroke-width="0.6" stroke-opacity="0.9"/>
<circle cx="296.13" cy="138.70" r="2.2" fill="none" stroke="#1c84e7" stroke-width="0.6" stroke-opacity="0.9"/>
<circle cx="296.62" cy="138.46" r="2.2" fill="none" stroke="#1c84e7" stroke-width="0.6" stroke-opacity="0.9"/>
<circle cx="297.13" cy="138.26" r="2.2" fill="none" stroke="#1c84e7" stroke-width="0.6" stroke-opacity="0.9"/>
<circle cx="297.67" cy="138.12" r="2.2" fill="none" stroke="#1c84e7" stroke-width="0.6" stroke-opacity="0.9"/>
<circle cx="298.21" cy="138.10" r="2.2" fill="none" stroke="#1c84e7" stroke-width="0.6" stroke-opacity="0.9"/>
<circle cx="298.75" cy="138.21" r="2.2" fill="none" stroke="#1c84e7" stroke-width="0.6" stroke-opacity="0.9"/>
<circle cx="299.26" cy="138.42" r="2.2" fill="none" stroke="#1c84e7" stroke-width="0.6" stroke-opacity="0.9"/>
<circle cx="299.75" cy="138.68" r="2.2" fill="none" stroke="#1c84e7" stroke-width="0.6" stroke-opacity="0.9"/>
<circle cx="300.20" cy="138.98" r="2.2" fill="none" stroke="#1c84e7" stroke-width="0.6" stroke-opacity="0.9"/>
<circle cx="300.64" cy="139.32" r="2.2" fill="none" stroke="#1c84e7" stroke-width="0.6" stroke-opacity="0.9"/>
<circle cx="301.06" cy="139.67" r="2.2" fill="none" stroke="#1c84e7" stroke-width="0.6" stroke-opacity="0.9"/>
<circle cx="301.46" cy="140.05" r="2.2" fill="none" stroke="#1c84e7" stroke-width="0.6" stroke-opacity="0.9"/>
<circle cx="301.81" cy="140.47" r="2.2" fill="none" stroke="#1c84e7" stroke-width="0.6" stroke-opacity="0.9"/>
<circle cx="302.14" cy="140.92" r="2.2" fill="none" stroke="#1c84e7" stroke-width="0.6" stroke-opacity="0.9"/>
<circle cx="302.44" cy="141.38" r="2.2" fill="none" stroke="#1c84e7" stroke-width="0.6" stroke-opacity="0.9"/>
<circle cx="302.72" cy="141.85" r="2.2" fill="none" stroke="#1c84e7" stroke-width="0.6" stroke-opacity="0.9"/>
<circle cx="303.00" cy="142.32" r="2.2" fill="none" stroke="#1c84e7" stroke-width="0.6" stroke-opacity="0.9"/>
<circle cx="303.28" cy="142.80" r="2.2" fill="none" stroke="#1c84e7" stroke-width="0.6" stroke-opacity="0.9"/>
<circle cx="303.55" cy="143.27" r="2.2" fill="none" stroke="#1c84e7" stroke-width="0.6" stroke-opacity="0.9"/>
<circle cx="303.80" cy="143.76" r="2.2" fill="none" stroke="#1c84e7" stroke-width="0.6" stroke-opacity="0.9"/>
<circle cx="304.03" cy="144.26" r="2.2" fill="none" stroke="#1c84e7" stroke-width="0.6" stroke-opacity="0.9"/>
<circle cx="304.26" cy="144.76" r="2.2" fill="none" stroke="#1c84e7" stroke-width="0.6" stroke-opacity="0.9"/>
<circle cx="304.48" cy="145.27" r="2.2" fill="none" stroke="#1c84e7" stroke-width="0.6" stroke-opacity="0.9"/>
<circle cx="304.72" cy="145.76" r="2.2" fill="none" stroke="#1c84e7" stroke-width="0.6" stroke-opacity="0.9"/>
<circle cx="304.99" cy="146.24" r="2.2" fill="none" stroke="#1c84e7" stroke-width="0.6" stroke-opacity="0.9"/>
<circle cx="305.31" cy="146.69" r="2.2" fill="none" stroke="#1c84e7" stroke-width="0.6" stroke-opacity="0.9"/>
<circle cx="305.67" cy="147.10" r="2.2" fill="none" stroke="#1c84e7" stroke-width="0.6" stroke-opacity="0.9"/>
<circle cx="306.06" cy="147.50" r="2.2" fill="none" stroke="#1c84e7" stroke-width="0.6" stroke-opacity="0.9"/>
<circle cx="306.47" cy="147.86" r="2.2" fill="none" stroke="#1c84e7" stroke-width="0.6" stroke-opacity="0.9"/>
<circle cx="306.92" cy="148.17" r="2.2" fill="none" stroke="#1c84e7" stroke-width="0.6" stroke-opacity="0.9"/>
<circle cx="307.42" cy="148.41" r="2.2" fill="none" stroke="#1c84e7" stroke-width="0.6" stroke-opacity="0.9"/>
<circle cx="307.95" cy="148.51" r="2.2" fill="none" stroke="#1c84e7" stroke-width="0.6" stroke-opacity="0.9"/>
<circle cx="308.50" cy="148.46" r="2.2" fill="none" stroke="#1c84e7" stroke-width="0.6" stroke-opacity="0.9"/>
<circle cx="309.03" cy="148.30" r="2.2" fill="none" stroke="#1c84e7" stroke-width="0.6" stroke-opacity="0.9"/>
<circle cx="309.53" cy="148.09" r="2.2" fill="none" stroke="#1c84e7" stroke-width="0.6" stroke-opacity="0.9"/>
<circle cx="310.02" cy="147.84" r="2.2" fill="none" stroke="#1c84e7" stroke-width="0.6" stroke-opacity="0.9"/>
<circle cx="310.50" cy="147.57" r="2.2" fill="none" stroke="#1c84e7" stroke-width="0.6" stroke-opacity="0.9"/>
<circle cx="310.99" cy="147.31" r="2.2" fill="none" stroke="#1c84e7" stroke-width="0.6" stroke-opacity="0.9"/>
<circle cx="311.46" cy="147.03" r="2.2" fill="none" stroke="#1c84e7" stroke-width="0.6" stroke-opacity="0.9"/>
<circle cx="311.92" cy="146.73" r="2.2" fill="none" stroke="#1c84e7" stroke-width="0.6" stroke-opacity="0.9"/>
<circle cx="312.38" cy="146.42" r="2.2" fill="none" stroke="#1c84e7" stroke-width="0.6" stroke-opacity="0.9"/>
<circle cx="312.82" cy="146.09" r="2.2" fill="none" stroke="#1c84e7" stroke-width="0.6" stroke-opacity="0.9"/>
<circle cx="313.26" cy="145.76" r="2.2" fill="none" stroke="#1c84e7" stroke-width="0.6" stroke-opacity="0.9"/>
<circle cx="313.69" cy="145.42" r="2.2" fill="none" stroke="#1c84e7" stroke-width="0.6" stroke-opacity="0.9"/>
<circle cx="314.12" cy="145.08" r="2.2" fill="none" stroke="#1c84e7" stroke-width="0.6" stroke-opacity="0.9"/>
<circle cx="314.55" cy="144.74" r="2.2" fill="none" stroke="#1c84e7" stroke-width="0.6" stroke-opacity="0.9"/>
<circle cx="314.98" cy="144.39" r="2.2" fill="none" stroke="#1c84e7" stroke-width="0.6" stroke-opacity="0.9"/>
<circle cx="315.41" cy="144.05" r="2.2" fill="none" stroke="#1c84e7" stroke-width="0.6" stroke-opacity="0.9"/>
<circle cx="315.85" cy="143.72" r="2.2" fill="none" stroke="#1c84e7" stroke-width="0.6" stroke-opacity="0.9"/>
<circle cx="316.29" cy="143.38" r="2.2" fill="none" stroke="#1c84e7" stroke-width="0.6" stroke-opacity="0.9"/>
<circle cx="316.72" cy="143.05" r="2.2" fill="none" stroke="#1c84e7" stroke-width="0.6" stroke-opacity="0.9"/>
<circle cx="317.16" cy="142.72" r="2.2" fill="none" stroke="#1c84e7" stroke-width="0.6" stroke-opacity="0.9"/>
<circle cx="317.60" cy="142.39" r="2.2" fill="none" stroke="#1c84e7" stroke-width="0.6" stroke-opacity="0.9"/>
<circle cx="318.04" cy="142.05" r="2.2" fill="none" stroke="#1c84e7" stroke-width="0.6" stroke-opacity="0.9"/>
<circle cx="318.47" cy="141.72" r="2.2" fill="none" stroke="#1c84e7" stroke-width="0.6" stroke-opacity="0.9"/>
<circle cx="318.91" cy="141.39" r="2.2" fill="none" stroke="#1c84e7" stroke-width="0.6" stroke-opacity="0.9"/>
<circle cx="319.35" cy="141.05" r="2.2" fill="none" stroke="#1c84e7" stroke-width="0.6" stroke-opacity="0.9"/>
<circle cx="319.78" cy="140.72" r="2.2" fill="none" stroke="#1c84e7" stroke-width="0.6" stroke-opacity="0.9"/>
<circle cx="320.22" cy="140.38" r="2.2" fill="none" stroke="#1c84e7" stroke-width="0.6" stroke-opacity="0.9"/>
<circle cx="320.65" cy="140.04" r="2.2" fill="none" stroke="#1c84e7" stroke-width="0.6" stroke-opacity="0.9"/>
<circle cx="321.09" cy="139.71" r="2.2" fill="none" stroke="#1c84e7" stroke-width="0.6" stroke-opacity="0.9"/>
<circle cx="321.52" cy="139.37" r="2.2" fill="none" stroke="#1c84e7" stroke-width="0.6" stroke-opacity="0.9"/>
<circle cx="321.96" cy="139.03" r="2.2" fill="none" stroke="#1c84e7" stroke-width="0.6" stroke-opacity="0.9"/>
<circle cx="322.39" cy="138.69" r="2.2" fill="none" stroke="#1c84e7" stroke-width="0.6" stroke-opacity="0.9"/>
<circle cx="323.87" cy="137.50" r="2.2" fill="none" stroke="#1c84e7" stroke-width="0.6" stroke-opacity="0.9"/>
<circle cx="325.34" cy="136.29" r="2.2" fill="none" stroke="#1c84e7" stroke-width="0.6" stroke-opacity="0.9"/>
<circle cx="326.79" cy="135.07" r="2.2" fill="none" stroke="#1c84e7" stroke-width="0.6" stroke-opacity="0.9"/>
<circle cx="328.23" cy="133.83" r="2.2" fill="none" stroke="#1c84e7" stroke-width="0.6" stroke-opacity="0.9"/>
<circle cx="329.67" cy="132.59" r="2.2" fill="none" stroke="#1c84e7" stroke-width="0.6" stroke-opacity="0.9"/>
<circle cx="331.09" cy="131.33" r="2.2" fill="none" stroke="#1c84e7" stroke-width="0.6" stroke-opacity="0.9"/>
<circle cx="332.50" cy="130.06" r="2.2" fill="none" stroke="#1c84e7" stroke-width="0.6" stroke-opacity="0.9"/>
<circle cx="334.07" cy="128.99" r="2.2" fill="none" stroke="#1c84e7" stroke-width="0.6" stroke-opacity="0.9"/>
<circle cx="335.86" cy="128.77" r="2.2" fill="none" stroke="#1c84e7" stroke-width="0.6" stroke-opacity="0.9"/>
<circle cx="337.34" cy="129.95" r="2.2" fill="none" stroke="#1c84e7" stroke-width="0.6" stroke-opacity="0.9"/>
<circle cx="337.62" cy="130.30" r="2.2" fill="none" stroke="#1c84e7" stroke-width="0.6" stroke-opacity="0.9"/>
<circle cx="337.86" cy="130.68" r="2.2" fill="none" stroke="#1c84e7" stroke-width="0.6" stroke-opacity="0.9"/>
<circle cx="338.09" cy="131.07" r="2.2" fill="none" stroke="#1c84e7" stroke-width="0.6" stroke-opacity="0.9"/>
<circle cx="338.33" cy="131.45" r="2.2" fill="none" stroke="#1c84e7" stroke-width="0.6" stroke-opacity="0.9"/>
<circle cx="338.59" cy="131.82" r="2.2" fill="none" stroke="#1c84e7" stroke-width="0.6" stroke-opacity="0.9"/>
<circle cx="338.91" cy="132.14" r="2.2" fill="none" stroke="#1c84e7" stroke-width="0.6" stroke-opacity="0.9"/>
<circle cx="339.30" cy="132.36" r="2.2" fill="none" stroke="#1c84e7" stroke-width="0.6" stroke-opacity="0.9"/>
<circle cx="339.72" cy="132.50" r="2.2" fill="none" stroke="#1c84e7" stroke-width="0.6" stroke-opacity="0.9"/>
<circle cx="340.17" cy="132.55" r="2.2" fill="none" stroke="#1c84e7" stroke-width="0.6" stroke-opacity="0.9"/>
<circle cx="340.62" cy="132.50" r="2.2" fill="none" stroke="#1c84e7" stroke-width="0.6" stroke-opacity="0.9"/>
<circle cx="341.01" cy="132.28" r="2.2" fill="none" stroke="#1c84e7" stroke-width="0.6" stroke-opacity="0.9"/>
<circle cx="341.35" cy="131.99" r="2.2" fill="none" stroke="#1c84e7" stroke-width="0.6" stroke-opacity="0.9"/>
<circle cx="341.65" cy="131.66" r="2.2" fill="none" stroke="#1c84e7" stroke-width="0.6" stroke-opacity="0.9"/>
<circle cx="341.97" cy="131.33" r="2.2" fill="none" stroke="#1c84e7" stroke-width="0.6" stroke-opacity="0.9"/>
<circle cx="342.29" cy="131.02" r="2.2" fill="none" stroke="#1c84e7" stroke-width="0.6" stroke-opacity="0.9"/>
<circle cx="342.61" cy="130.70" r="2.2" fill="none" stroke="#1c84e7" stroke-width="0.6" stroke-opacity="0.9"/>
<circle cx="342.92" cy="130.38" r="2.2" fill="none" stroke="#1c84e7" stroke-width="0.6" stroke-opacity="0.9"/>
<path d="M95.20 313.20 L95.24 313.09 L95.28 312.99 L95.31 312.88 L95.35 312.78 L95.38 312.68 L95.42 312.58 L95.45 312.48 L95.49 312.38 L95.52 312.28 L95.56 312.18 L95.59 312.07 L95.63 311.97 L95.67 311.86 L95.71 311.75 L95.75 311.64 L95.79 311.52 L95.84 311.40 L95.89 311.27 L95.94 311.14 L96.00 311.00 L96.11 310.73 L96.24 310.43 L96.37 310.12 L96.52 309.80 L96.67 309.45 L96.83 309.10 L97.00 308.73 L97.17 308.35 L97.35 307.97 L97.54 307.57 L97.72 307.17 L97.91 306.77 L98.10 306.37 L98.29 305.96 L98.48 305.56 L98.67 305.15 L98.86 304.76 L99.04 304.36 L99.22 303.98 L99.40 303.60 L99.58 303.22 L99.75 302.84 L99.93 302.47 L100.11 302.09 L100.28 301.71 L100.46 301.33 L100.64 300.95 L100.82 300.57 L100.99 300.19 L101.17 299.81 L101.35 299.44 L101.53 299.06 L101.71 298.67 L101.90 298.29 L102.08 297.91 L102.26 297.53 L102.44 297.15 L102.63 296.77 L102.81 296.38 L103.00 296.00 L103.19 295.60 L103.39 295.21 L103.59 294.82 L103.79 294.42 L104.00 294.03 L104.20 293.63 L104.41 293.24 L104.61 292.84 L104.82 292.45 L105.03 292.05 L105.23 291.65 L105.44 291.26 L105.64 290.86 L105.84 290.45 L106.04 290.05 L106.24 289.65 L106.44 289.24 L106.63 288.83 L106.82 288.42 L107.00 288.00 L107.19 287.57 L107.37 287.13 L107.55 286.69 L107.73 286.25 L107.90 285.81 L108.07 285.36 L108.24 284.91 L108.41 284.47 L108.58 284.02 L108.74 283.56 L108.91 283.11 L109.07 282.66 L109.23 282.20 L109.40 281.74 L109.56 281.29 L109.73 280.83 L109.89 280.37 L110.06 279.92 L110.23 279.46 L110.40 279.00 L110.58 278.53 L110.76 278.06 L110.93 277.59 L111.11 277.12 L111.29 276.65 L111.47 276.18 L111.65 275.71 L111.83 275.24 L112.01 274.76 L112.19 274.29 L112.37 273.81 L112.55 273.33 L112.74 272.85 L112.92 272.37 L113.10 271.88 L113.28 271.40 L113.46 270.90 L113.64 270.41 L113.82 269.91 L114.00 269.40 L114.20 268.84 L114.40 268.27 L114.61 267.71 L114.81 267.14 L115.02 266.57 L115.23 265.99 L115.44 265.41 L115.64 264.83 L115.85 264.25 L116.06 263.66 L116.26 263.07 L116.47 262.47 L116.67 261.87 L116.87 261.26 L117.07 260.65 L117.26 260.03 L117.45 259.41 L117.64 258.78 L117.82 258.14 L118.00 257.50 L118.20 256.75 L118.40 255.98 L118.60 255.20 L118.80 254.39 L118.99 253.58 L119.19 252.76 L119.38 251.93 L119.57 251.09 L119.75 250.25 L119.93 249.40 L120.10 248.56 L120.27 247.72 L120.44 246.89 L120.60 246.06 L120.75 245.25 L120.89 244.45 L121.03 243.66 L121.16 242.88 L121.29 242.13 L121.40 241.40 L121.48 240.83 L121.56 240.28 L121.64 239.74 L121.70 239.21 L121.77 238.69 L121.83 238.18 L121.88 237.68 L121.93 237.18 L121.98 236.68 L122.02 236.19 L122.07 235.69 L122.11 235.20 L122.14 234.70 L122.18 234.19 L122.22 233.68 L122.25 233.17 L122.29 232.64 L122.33 232.11 L122.36 231.56 L122.40 231.00 L122.45 230.31 L122.49 229.62 L122.53 228.92 L122.58 228.21 L122.62 227.49 L122.66 226.76 L122.69 226.02 L122.73 225.28 L122.76 224.54 L122.80 223.78 L122.83 223.02 L122.86 222.26 L122.88 221.49 L122.91 220.72 L122.93 219.94 L122.95 219.16 L122.96 218.37 L122.98 217.58 L122.99 216.79 L123.00 216.00 L123.00 215.10 L123.00 214.18 L122.99 213.24 L122.97 212.30 L122.94 211.34 L122.91 210.37 L122.88 209.40 L122.85 208.42 L122.81 207.44 L122.77 206.46 L122.74 205.48 L122.70 204.50 L122.67 203.52 L122.64 202.56 L122.62 201.60 L122.60 200.65 L122.59 199.71 L122.58 198.79 L122.59 197.89 L122.60 197.00 L122.62 196.25 L122.64 195.51 L122.67 194.78 L122.70 194.06 L122.73 193.35 L122.77 192.64 L122.81 191.94 L122.85 191.24 L122.89 190.55 L122.94 189.86 L122.99 189.18 L123.04 188.50 L123.10 187.81 L123.15 187.13 L123.21 186.45 L123.26 185.76 L123.32 185.08 L123.38 184.39 L123.44 183.70 L123.50 183.00 L123.56 182.30 L123.62 181.59 L123.67 180.89 L123.72 180.18 L123.78 179.47 L123.83 178.76 L123.89 178.05 L123.94 177.33 L124.00 176.62 L124.06 175.92 L124.13 175.21 L124.20 174.50 L124.27 173.80 L124.36 173.10 L124.44 172.41 L124.54 171.72 L124.64 171.03 L124.75 170.35 L124.87 169.67 L125.00 169.00 L125.13 168.37 L125.27 167.74 L125.41 167.11 L125.57 166.49 L125.73 165.86 L125.89 165.24 L126.06 164.62 L126.24 164.01 L126.42 163.39 L126.60 162.79 L126.79 162.18 L126.98 161.58 L127.18 160.99 L127.37 160.40 L127.58 159.81 L127.78 159.24 L127.98 158.67 L128.19 158.10 L128.39 157.55 L128.60 157.00 L128.78 156.53 L128.97 156.07 L129.16 155.61 L129.35 155.16 L129.55 154.71 L129.75 154.27 L129.95 153.84 L130.16 153.41 L130.36 152.98 L130.57 152.55 L130.78 152.13 L130.99 151.71 L131.19 151.29 L131.40 150.88 L131.61 150.47 L131.81 150.05 L132.01 149.64 L132.21 149.23 L132.41 148.81 L132.60 148.40 L132.78 148.02 L132.95 147.64 L133.13 147.26 L133.30 146.88 L133.47 146.50 L133.64 146.13 L133.81 145.75 L133.98 145.38 L134.15 145.01 L134.32 144.64 L134.49 144.27 L134.66 143.90 L134.82 143.53 L134.99 143.17 L135.16 142.81 L135.33 142.44 L135.49 142.08 L135.66 141.72 L135.83 141.36 L136.00 141.00 L136.16 140.66 L136.32 140.32 L136.47 139.98 L136.63 139.64 L136.78 139.31 L136.94 138.97 L137.09 138.63 L137.25 138.30 L137.40 137.97 L137.56 137.63 L137.71 137.30 L137.87 136.97 L138.03 136.65 L138.19 136.32 L138.35 136.00 L138.51 135.67 L138.68 135.35 L138.85 135.03 L139.02 134.71 L139.20 134.40 L139.37 134.10 L139.55 133.79 L139.73 133.49 L139.92 133.20 L140.10 132.90 L140.29 132.60 L140.48 132.31 L140.67 132.02 L140.87 131.73 L141.06 131.44 L141.25 131.15 L141.45 130.86 L141.65 130.58 L141.84 130.29 L142.04 130.01 L142.23 129.73 L142.43 129.44 L142.62 129.16 L142.81 128.88 L143.00 128.60 L143.18 128.33 L143.36 128.07 L143.54 127.80 L143.72 127.54 L143.90 127.27 L144.08 127.01 L144.27 126.75 L144.45 126.49 L144.63 126.22 L144.81 125.97 L144.99 125.71 L145.17 125.45 L145.35 125.19 L145.53 124.93 L145.71 124.68 L145.89 124.42 L146.06 124.16 L146.24 123.91 L146.42 123.65 L146.60 123.40 L146.77 123.16 L146.94 122.91 L147.11 122.67 L147.28 122.43 L147.45 122.18 L147.61 121.94 L147.78 121.70 L147.94 121.46 L148.11 121.23 L148.28 120.99 L148.45 120.75 L148.61 120.51 L148.78 120.27 L148.95 120.03 L149.12 119.79 L149.29 119.56 L149.47 119.32 L149.64 119.08 L149.82 118.84 L150.00 118.60 L150.19 118.35 L150.38 118.10 L150.57 117.84 L150.77 117.59 L150.96 117.34 L151.16 117.08 L151.36 116.83 L151.56 116.57 L151.76 116.32 L151.96 116.06 L152.16 115.81 L152.36 115.56 L152.57 115.31 L152.77 115.06 L152.97 114.81 L153.18 114.56 L153.38 114.32 L153.59 114.08 L153.79 113.84 L154.00 113.60 L154.20 113.38 L154.39 113.16 L154.59 112.94 L154.79 112.72 L154.99 112.50 L155.19 112.28 L155.40 112.07 L155.60 111.86 L155.80 111.65 L156.01 111.44 L156.21 111.23 L156.41 111.02 L156.61 110.81 L156.81 110.61 L157.02 110.40 L157.21 110.20 L157.41 110.00 L157.61 109.80 L157.81 109.60 L158.00 109.40 L158.18 109.22 L158.35 109.05 L158.52 108.87 L158.69 108.70 L158.87 108.53 L159.04 108.36 L159.21 108.19 L159.38 108.03 L159.55 107.86 L159.71 107.70 L159.88 107.53 L160.05 107.37 L160.22 107.20 L160.39 107.03 L160.56 106.87 L160.72 106.70 L160.89 106.53 L161.06 106.35 L161.23 106.18 L161.40 106.00 L161.58 105.81 L161.76 105.62 L161.94 105.42 L162.12 105.22 L162.29 105.03 L162.47 104.83 L162.65 104.63 L162.83 104.43 L163.00 104.22 L163.18 104.02 L163.36 103.82 L163.54 103.61 L163.72 103.41 L163.90 103.21 L164.08 103.00 L164.26 102.80 L164.44 102.60 L164.63 102.40 L164.81 102.20 L165.00 102.00 L165.19 101.80 L165.39 101.59 L165.59 101.39 L165.78 101.18 L165.98 100.98 L166.18 100.77 L166.39 100.57 L166.59 100.36 L166.79 100.15 L166.99 99.95 L167.20 99.75 L167.40 99.55 L167.60 99.35 L167.81 99.15 L168.01 98.95 L168.21 98.75 L168.41 98.56 L168.61 98.37 L168.80 98.18 L169.00 98.00 L169.17 97.84 L169.35 97.68 L169.52 97.53 L169.69 97.38 L169.86 97.23 L170.04 97.08 L170.21 96.93 L170.38 96.79 L170.55 96.65 L170.72 96.51 L170.89 96.36 L171.05 96.22 L171.22 96.08 L171.39 95.93 L171.56 95.78 L171.73 95.63 L171.90 95.48 L172.06 95.32 L172.23 95.16 L172.40 95.00 L172.58 94.82 L172.76 94.63 L172.94 94.44 L173.12 94.24 L173.30 94.04 L173.48 93.84 L173.66 93.64 L173.84 93.43 L174.02 93.23 L174.20 93.02 L174.38 92.81 L174.55 92.60 L174.73 92.40 L174.91 92.19 L175.09 91.99 L175.27 91.78 L175.45 91.58 L175.63 91.38 L175.82 91.19 L176.00 91.00 L176.18 90.82 L176.35 90.64 L176.53 90.46 L176.70 90.29 L176.88 90.11 L177.06 89.94 L177.23 89.76 L177.41 89.59 L177.59 89.42 L177.77 89.25 L177.95 89.08 L178.13 88.91 L178.31 88.74 L178.49 88.58 L178.67 88.41 L178.85 88.25 L179.04 88.08 L179.22 87.92 L179.41 87.76 L179.60 87.60 L179.79 87.44 L179.99 87.28 L180.18 87.13 L180.38 86.97 L180.58 86.82 L180.78 86.66 L180.99 86.51 L181.19 86.36 L181.39 86.21 L181.60 86.06 L181.80 85.91 L182.01 85.77 L182.21 85.62 L182.41 85.47 L182.61 85.33 L182.82 85.18 L183.01 85.04 L183.21 84.89 L183.41 84.75 L183.60 84.60 L183.78 84.47 L183.95 84.33 L184.13 84.20 L184.30 84.07 L184.47 83.94 L184.64 83.82 L184.81 83.69 L184.98 83.56 L185.15 83.43 L185.32 83.31 L185.48 83.18 L185.65 83.05 L185.82 82.92 L185.99 82.79 L186.15 82.66 L186.32 82.53 L186.49 82.40 L186.66 82.27 L186.83 82.14 L187.00 82.00 L187.18 81.86 L187.36 81.71 L187.54 81.56 L187.71 81.41 L187.89 81.26 L188.07 81.11 L188.25 80.96 L188.43 80.80 L188.60 80.65 L188.78 80.49 L188.96 80.34 L189.14 80.19 L189.32 80.03 L189.50 79.88 L189.68 79.73 L189.86 79.58 L190.05 79.43 L190.23 79.29 L190.41 79.14 L190.60 79.00 L190.78 78.86 L190.97 78.72 L191.16 78.59 L191.35 78.45 L191.54 78.32 L191.73 78.19 L191.92 78.06 L192.11 77.93 L192.30 77.80 L192.49 77.67 L192.68 77.54 L192.88 77.41 L193.07 77.29 L193.26 77.16 L193.45 77.03 L193.64 76.91 L193.83 76.78 L194.02 76.65 L194.21 76.53 L194.40 76.40 L194.58 76.28 L194.76 76.16 L194.95 76.04 L195.13 75.92 L195.31 75.80 L195.49 75.68 L195.67 75.56 L195.85 75.45 L196.03 75.33 L196.21 75.21 L196.39 75.10 L196.57 74.98 L196.75 74.86 L196.93 74.74 L197.11 74.62 L197.29 74.50 L197.47 74.38 L197.64 74.25 L197.82 74.13 L198.00 74.00 L198.18 73.87 L198.36 73.73 L198.54 73.60 L198.72 73.46 L198.90 73.33 L199.08 73.19 L199.26 73.05 L199.44 72.91 L199.62 72.77 L199.80 72.63 L199.98 72.49 L200.16 72.34 L200.34 72.20 L200.52 72.06 L200.70 71.92 L200.88 71.77 L201.06 71.63 L201.24 71.49 L201.42 71.34 L201.60 71.20 L201.79 71.05 L201.97 70.91 L202.16 70.76 L202.35 70.61 L202.54 70.47 L202.72 70.32 L202.91 70.17 L203.10 70.02 L203.28 69.88 L203.47 69.73 L203.66 69.58 L203.85 69.43 L204.04 69.28 L204.23 69.13 L204.42 68.98 L204.62 68.82 L204.81 68.67 L205.01 68.51 L205.20 68.36 L205.40 68.20 L205.62 68.03 L205.83 67.85 L206.05 67.68 L206.26 67.50 L206.47 67.32 L206.69 67.15 L206.90 66.97 L207.12 66.79 L207.33 66.61 L207.55 66.43 L207.77 66.25 L208.00 66.07 L208.23 65.88 L208.46 65.69 L208.70 65.50 L208.95 65.30 L209.20 65.11 L209.46 64.91 L209.73 64.71 L210.00 64.50 L210.41 64.20 L210.84 63.88 L211.28 63.56 L211.74 63.23 L212.22 62.90 L212.70 62.55 L213.20 62.21 L213.71 61.85 L214.22 61.50 L214.74 61.14 L215.27 60.78 L215.80 60.42 L216.33 60.06 L216.87 59.70 L217.40 59.34 L217.93 58.98 L218.46 58.63 L218.98 58.28 L219.49 57.94 L220.00 57.60 L220.50 57.27 L220.99 56.94 L221.49 56.61 L221.99 56.28 L222.49 55.95 L222.99 55.63 L223.48 55.30 L223.98 54.98 L224.48 54.65 L224.98 54.33 L225.48 54.01 L225.98 53.69 L226.48 53.37 L226.98 53.05 L227.48 52.74 L227.99 52.43 L228.49 52.12 L228.99 51.81 L229.50 51.50 L230.00 51.20 L230.50 50.90 L230.99 50.61 L231.49 50.32 L231.99 50.03 L232.49 49.74 L232.98 49.46 L233.48 49.18 L233.98 48.89 L234.48 48.61 L234.98 48.34 L235.48 48.06 L235.99 47.78 L236.49 47.51 L236.99 47.23 L237.49 46.96 L237.99 46.69 L238.49 46.41 L239.00 46.14 L239.50 45.87 L240.00 45.60 L240.50 45.33 L241.00 45.06 L241.49 44.80 L241.99 44.53 L242.49 44.27 L242.99 44.00 L243.49 43.74 L243.99 43.48 L244.49 43.22 L244.99 42.96 L245.49 42.70 L245.99 42.44 L246.49 42.18 L246.99 41.92 L247.49 41.67 L247.99 41.41 L248.49 41.16 L249.00 40.90 L249.50 40.65 L250.00 40.40 L250.50 40.15 L251.00 39.90 L251.50 39.66 L251.99 39.41 L252.49 39.17 L252.99 38.93 L253.49 38.69 L253.99 38.45 L254.49 38.21 L254.99 37.97 L255.49 37.73 L255.99 37.49 L256.49 37.25 L256.99 37.02 L257.50 36.78 L258.00 36.54 L258.50 36.31 L259.00 36.07 L259.50 35.84 L260.00 35.60 L260.50 35.37 L261.00 35.13 L261.50 34.90 L262.00 34.67 L262.50 34.43 L263.00 34.20 L263.50 33.97 L264.00 33.74 L264.50 33.51 L265.00 33.28 L265.50 33.05 L266.00 32.82 L266.50 32.59 L267.00 32.36 L267.50 32.13 L268.00 31.91 L268.50 31.68 L269.00 31.45 L269.50 31.23 L270.00 31.00 L270.50 30.78 L271.00 30.55 L271.50 30.32 L272.00 30.10 L272.49 29.87 L272.99 29.65 L273.49 29.42 L273.99 29.20 L274.49 28.98 L274.99 28.75 L275.49 28.53 L275.99 28.31 L276.49 28.09 L276.99 27.87 L277.49 27.66 L277.99 27.44 L278.49 27.23 L279.00 27.02 L279.50 26.81 L280.00 26.60 L280.50 26.40 L281.00 26.20 L281.49 26.00 L281.99 25.80 L282.49 25.60 L282.99 25.41 L283.49 25.22 L283.99 25.03 L284.49 24.84 L284.99 24.65 L285.49 24.46 L285.99 24.27 L286.49 24.09 L286.99 23.90 L287.49 23.72 L288.00 23.53 L288.50 23.35 L289.00 23.17 L289.50 22.98 L290.00 22.80 L290.50 22.62 L291.00 22.44 L291.50 22.26 L292.00 22.08 L292.50 21.90 L293.00 21.72 L293.49 21.54 L293.99 21.37 L294.49 21.19 L294.99 21.01 L295.49 20.84 L295.99 20.67 L296.49 20.49 L297.00 20.32 L297.50 20.15 L298.00 19.98 L298.50 19.81 L299.00 19.64 L299.50 19.47 L300.00 19.30 L300.50 19.13 L301.00 18.97 L301.50 18.80 L302.00 18.64 L302.50 18.47 L302.99 18.31 L303.49 18.14 L303.99 17.98 L304.49 17.82 L304.99 17.66 L305.49 17.50 L305.99 17.34 L306.49 17.18 L306.99 17.02 L307.50 16.87 L308.00 16.71 L308.50 16.56 L309.00 16.40 L309.50 16.25 L310.00 16.10 L310.50 15.95 L311.00 15.80 L311.50 15.65 L312.00 15.51 L312.49 15.36 L312.99 15.21 L313.49 15.07 L313.99 14.92 L314.49 14.78 L314.99 14.64 L315.49 14.50 L315.99 14.36 L316.49 14.22 L316.99 14.08 L317.49 13.95 L317.99 13.82 L318.50 13.68 L319.00 13.55 L319.50 13.43 L320.00 13.30 L320.50 13.18 L321.00 13.05 L321.50 12.93 L321.99 12.82 L322.49 12.70 L322.99 12.59 L323.49 12.47 L323.99 12.36 L324.49 12.25 L324.99 12.14 L325.49 12.03 L325.99 11.92 L326.49 11.82 L326.99 11.71 L327.50 11.61 L328.00 11.51 L328.50 11.40 L329.00 11.30 L329.50 11.20 L330.00 11.10 L330.50 11.00 L331.00 10.90 L331.50 10.80 L332.01 10.71 L332.51 10.61 L333.01 10.51 L333.52 10.42 L334.02 10.33 L334.52 10.23 L335.03 10.14 L335.53 10.05 L336.03 9.96 L336.53 9.87 L337.04 9.79 L337.53 9.70 L338.03 9.62 L338.53 9.54 L339.02 9.46 L339.51 9.38 L340.00 9.30 L340.46 9.23 L340.92 9.16 L341.37 9.09 L341.83 9.02 L342.28 8.96 L342.73 8.89 L343.19 8.83 L343.64 8.77 L344.08 8.71 L344.53 8.65 L344.98 8.59 L345.43 8.53 L345.87 8.47 L346.32 8.42 L346.77 8.36 L347.21 8.31 L347.66 8.25 L348.11 8.20 L348.55 8.15 L349.00 8.10 L349.44 8.05 L349.88 8.00 L350.32 7.96 L350.75 7.91 L351.19 7.87 L351.62 7.82 L352.06 7.78 L352.49 7.74 L352.93 7.70 L353.36 7.66 L353.80 7.62 L354.24 7.58 L354.67 7.55 L355.11 7.51 L355.56 7.47 L356.00 7.44 L356.44 7.40 L356.89 7.37 L357.35 7.33 L357.80 7.30 L358.29 7.26 L358.79 7.23 L359.28 7.19 L359.78 7.16 L360.28 7.12 L360.78 7.09 L361.29 7.05 L361.80 7.02 L362.30 6.99 L362.81 6.96 L363.33 6.93 L363.84 6.90 L364.35 6.87 L364.87 6.84 L365.39 6.82 L365.91 6.79 L366.43 6.77 L366.95 6.74 L367.48 6.72 L368.00 6.70 L368.56 6.68 L369.12 6.66 L369.69 6.65 L370.26 6.63 L370.83 6.62 L371.40 6.61 L371.97 6.60 L372.55 6.59 L373.13 6.58 L373.71 6.57 L374.29 6.56 L374.87 6.56 L375.45 6.55 L376.03 6.55 L376.61 6.54 L377.19 6.53 L377.77 6.53 L378.35 6.52 L378.92 6.51 L379.50 6.50" fill="none" stroke="#a91b0d" stroke-width="1.5" stroke-linejoin="round"/>
<circle cx="96.00" cy="311.00" r="2.5" fill="#a91b0d"/>
<circle cx="99.40" cy="303.60" r="2.5" fill="#a91b0d"/>
<circle cx="103.00" cy="296.00" r="2.5" fill="#a91b0d"/>
<circle cx="107.00" cy="288.00" r="2.5" fill="#a91b0d"/>
<circle cx="110.40" cy="279.00" r="2.5" fill="#a91b0d"/>
<circle cx="114.00" cy="269.40" r="2.5" fill="#a91b0d"/>
<circle cx="118.00" cy="257.50" r="2.5" fill="#a91b0d"/>
<circle cx="121.40" cy="241.40" r="2.5" fill="#a91b0d"/>
<circle cx="122.40" cy="231.00" r="2.5" fill="#a91b0d"/>
<circle cx="123.00" cy="216.00" r="2.5" fill="#a91b0d"/>
<circle cx="122.60" cy="197.00" r="2.5" fill="#a91b0d"/>
<circle cx="122.63" cy="195.80" r="2.5" fill="#a91b0d"/>
<circle cx="122.67" cy="194.60" r="2.5" fill="#a91b0d"/>
<circle cx="122.73" cy="193.40" r="2.5" fill="#a91b0d"/>
<circle cx="122.79" cy="192.20" r="2.5" fill="#a91b0d"/>
<circle cx="122.86" cy="191.00" r="2.5" fill="#a91b0d"/>
<circle cx="122.95" cy="189.80" r="2.5" fill="#a91b0d"/>
<circle cx="123.03" cy="188.60" r="2.5" fill="#a91b0d"/>
<circle cx="123.36" cy="184.60" r="2.5" fill="#a91b0d"/>
<circle cx="123.47" cy="183.40" r="2.5" fill="#a91b0d"/>
<circle cx="123.57" cy="182.20" r="2.5" fill="#a91b0d"/>
<circle cx="123.66" cy="181.00" r="2.5" fill="#a91b0d"/>
<circle cx="123.75" cy="179.80" r="2.5" fill="#a91b0d"/>
<circle cx="123.84" cy="178.60" r="2.5" fill="#a91b0d"/>
<circle cx="123.94" cy="177.40" r="2.5" fill="#a91b0d"/>
<circle cx="124.25" cy="174.00" r="2.5" fill="#a91b0d"/>
<circle cx="124.39" cy="172.80" r="2.5" fill="#a91b0d"/>
<circle cx="124.56" cy="171.60" r="2.5" fill="#a91b0d"/>
<circle cx="124.74" cy="170.40" r="2.5" fill="#a91b0d"/>
<circle cx="124.96" cy="169.20" r="2.5" fill="#a91b0d"/>
<circle cx="128.60" cy="157.00" r="2.5" fill="#a91b0d"/>
<circle cx="132.60" cy="148.40" r="2.5" fill="#a91b0d"/>
<circle cx="136.00" cy="141.00" r="2.5" fill="#a91b0d"/>
<circle cx="139.20" cy="134.40" r="2.55" fill="#a91b0d"/>
<circle cx="142.86" cy="128.81" r="2.55" fill="#a91b0d"/>
<circle cx="146.52" cy="123.51" r="2.55" fill="#a91b0d"/>
<circle cx="150.18" cy="118.36" r="2.55" fill="#a91b0d"/>
<circle cx="153.84" cy="113.78" r="2.55" fill="#a91b0d"/>
<circle cx="157.50" cy="109.91" r="2.55" fill="#a91b0d"/>
<circle cx="161.16" cy="106.25" r="2.55" fill="#a91b0d"/>
<circle cx="164.82" cy="102.19" r="2.55" fill="#a91b0d"/>
<circle cx="168.48" cy="98.49" r="2.55" fill="#a91b0d"/>
<circle cx="172.14" cy="95.25" r="2.55" fill="#a91b0d"/>
<circle cx="175.80" cy="91.21" r="2.55" fill="#a91b0d"/>
<circle cx="179.46" cy="87.72" r="2.55" fill="#a91b0d"/>
<circle cx="183.12" cy="84.96" r="2.55" fill="#a91b0d"/>
<circle cx="186.78" cy="82.17" r="2.55" fill="#a91b0d"/>
<circle cx="190.44" cy="79.12" r="2.55" fill="#a91b0d"/>
<circle cx="194.10" cy="76.60" r="2.55" fill="#a91b0d"/>
<circle cx="197.76" cy="74.17" r="2.55" fill="#a91b0d"/>
<circle cx="201.42" cy="71.34" r="2.7" fill="#a91b0d"/>
<circle cx="205.08" cy="68.45" r="2.7" fill="#a91b0d"/>
<circle cx="208.74" cy="65.47" r="2.7" fill="#a91b0d"/>
<circle cx="212.40" cy="62.77" r="2.7" fill="#a91b0d"/>
<circle cx="216.06" cy="60.24" r="2.7" fill="#a91b0d"/>
<circle cx="219.72" cy="57.79" r="2.7" fill="#a91b0d"/>
<circle cx="223.38" cy="55.37" r="2.7" fill="#a91b0d"/>
<circle cx="227.04" cy="53.02" r="2.7" fill="#a91b0d"/>
<circle cx="230.70" cy="50.78" r="2.7" fill="#a91b0d"/>
<circle cx="234.36" cy="48.68" r="2.7" fill="#a91b0d"/>
<circle cx="238.02" cy="46.67" r="2.7" fill="#a91b0d"/>
<circle cx="241.68" cy="44.70" r="2.7" fill="#a91b0d"/>
<circle cx="245.34" cy="42.77" r="2.7" fill="#a91b0d"/>
<circle cx="249.00" cy="40.90" r="2.7" fill="#a91b0d"/>
<circle cx="252.66" cy="39.09" r="2.7" fill="#a91b0d"/>
<circle cx="256.32" cy="37.33" r="2.7" fill="#a91b0d"/>
<circle cx="259.98" cy="35.61" r="2.7" fill="#a91b0d"/>
<circle cx="263.64" cy="33.90" r="2.7" fill="#a91b0d"/>
<circle cx="267.30" cy="32.22" r="2.7" fill="#a91b0d"/>
<circle cx="270.96" cy="30.57" r="2.7" fill="#a91b0d"/>
<circle cx="274.62" cy="28.92" r="2.7" fill="#a91b0d"/>
<circle cx="278.28" cy="27.32" r="2.7" fill="#a91b0d"/>
<circle cx="281.94" cy="25.82" r="2.7" fill="#a91b0d"/>
<circle cx="285.60" cy="24.42" r="2.7" fill="#a91b0d"/>
<circle cx="289.26" cy="23.07" r="2.7" fill="#a91b0d"/>
<circle cx="292.92" cy="21.75" r="2.7" fill="#a91b0d"/>
<circle cx="296.58" cy="20.46" r="2.7" fill="#a91b0d"/>
<circle cx="300.24" cy="19.22" r="2.7" fill="#a91b0d"/>
<circle cx="303.90" cy="18.01" r="2.7" fill="#a91b0d"/>
<circle cx="307.56" cy="16.85" r="2.7" fill="#a91b0d"/>
<circle cx="311.22" cy="15.74" r="2.7" fill="#a91b0d"/>
<circle cx="314.88" cy="14.67" r="2.7" fill="#a91b0d"/>
<circle cx="318.54" cy="13.67" r="2.7" fill="#a91b0d"/>
<circle cx="322.20" cy="12.77" r="2.7" fill="#a91b0d"/>
<circle cx="325.86" cy="11.95" r="2.7" fill="#a91b0d"/>
<circle cx="329.52" cy="11.20" r="2.7" fill="#a91b0d"/>
<circle cx="333.18" cy="10.48" r="2.7" fill="#a91b0d"/>
<circle cx="336.84" cy="9.82" r="2.7" fill="#a91b0d"/>
<circle cx="340.50" cy="9.22" r="2.7" fill="#a91b0d"/>
<circle cx="344.16" cy="8.69" r="2.7" fill="#a91b0d"/>
<circle cx="347.82" cy="8.24" r="2.7" fill="#a91b0d"/>
<circle cx="351.48" cy="7.84" r="2.7" fill="#a91b0d"/>
<circle cx="355.14" cy="7.51" r="2.7" fill="#a91b0d"/>
<circle cx="358.80" cy="7.23" r="2.7" fill="#a91b0d"/>
<circle cx="362.46" cy="6.98" r="2.7" fill="#a91b0d"/>
<circle cx="366.12" cy="6.78" r="2.7" fill="#a91b0d"/>
<circle cx="369.78" cy="6.64" r="2.7" fill="#a91b0d"/>
<circle cx="373.44" cy="6.58" r="2.7" fill="#a91b0d"/>
<circle cx="377.10" cy="6.53" r="2.7" fill="#a91b0d"/>
</g>
<circle cx="379.6" cy="6.5" r="2.7" fill="#c9a27c"/>
<rect x="70.5" y="0.5" width="313.0" height="312.7" fill="none" stroke="#7a7a7a" stroke-width="0.85"/>
<path d="M88.10 313.2 v-2.1 M88.10 0.5 v2.1 M106.40 313.2 v-3.3 M106.40 0.5 v3.3 M124.70 313.2 v-2.1 M124.70 0.5 v2.1 M143.00 313.2 v-2.1 M143.00 0.5 v2.1 M161.30 313.2 v-2.1 M161.30 0.5 v2.1 M179.60 313.2 v-2.1 M179.60 0.5 v2.1 M197.90 313.2 v-3.3 M197.90 0.5 v3.3 M216.20 313.2 v-2.1 M216.20 0.5 v2.1 M234.50 313.2 v-2.1 M234.50 0.5 v2.1 M252.80 313.2 v-2.1 M252.80 0.5 v2.1 M271.10 313.2 v-2.1 M271.10 0.5 v2.1 M289.40 313.2 v-3.3 M289.40 0.5 v3.3 M307.70 313.2 v-2.1 M307.70 0.5 v2.1 M326.00 313.2 v-2.1 M326.00 0.5 v2.1 M344.30 313.2 v-2.1 M344.30 0.5 v2.1 M362.60 313.2 v-2.1 M362.60 0.5 v2.1 M380.90 313.2 v-3.3 M380.90 0.5 v3.3 M70.5 4.26 h2.1 M383.5 4.26 h-2.1 M70.5 19.28 h2.1 M383.5 19.28 h-2.1 M70.5 34.30 h3.3 M383.5 34.30 h-3.3 M70.5 49.32 h2.1 M383.5 49.32 h-2.1 M70.5 64.34 h2.1 M383.5 64.34 h-2.1 M70.5 79.36 h2.1 M383.5 79.36 h-2.1 M70.5 94.38 h2.1 M383.5 94.38 h-2.1 M70.5 109.40 h3.3 M383.5 109.40 h-3.3 M70.5 124.42 h2.1 M383.5 124.42 h-2.1 M70.5 139.44 h2.1 M383.5 139.44 h-2.1 M70.5 154.46 h2.1 M383.5 154.46 h-2.1 M70.5 169.48 h2.1 M383.5 169.48 h-2.1 M70.5 184.50 h3.3 M383.5 184.50 h-3.3 M70.5 199.52 h2.1 M383.5 199.52 h-2.1 M70.5 214.54 h2.1 M383.5 214.54 h-2.1 M70.5 229.56 h2.1 M383.5 229.56 h-2.1 M70.5 244.58 h2.1 M383.5 244.58 h-2.1 M70.5 259.60 h3.3 M383.5 259.60 h-3.3 M70.5 274.62 h2.1 M383.5 274.62 h-2.1 M70.5 289.64 h2.1 M383.5 289.64 h-2.1 M70.5 304.66 h2.1 M383.5 304.66 h-2.1" stroke="#7a7a7a" stroke-width="0.85" fill="none"/>
<g font-family="Liberation Sans, sans-serif" font-size="14" fill="#000">
<text x="106.60" y="326.4" text-anchor="middle">0.85</text>
<text x="198.10" y="326.4" text-anchor="middle">0.90</text>
<text x="289.60" y="326.4" text-anchor="middle">0.95</text>
<text x="380.30" y="326.4" text-anchor="middle">1.00</text>
<text x="67.2" y="38.80" text-anchor="end">0.00</text>
<text x="67.2" y="113.90" text-anchor="end">−0.01</text>
<text x="67.2" y="189.00" text-anchor="end">−0.02</text>
<text x="67.2" y="264.10" text-anchor="end">−0.03</text>
</g>
<g font-family="Liberation Sans, sans-serif" font-style="italic" font-size="17" fill="#000">
<text x="107.6" y="210.4">A</text>
<text x="287.2" y="158.7">C</text>
<text x="333.4" y="151.3">E</text>
</g>
<g font-family="Liberation Sans, sans-serif" font-style="italic" font-size="12.6" fill="#1515ee">
<text x="368.0" y="247.9" text-anchor="end">(continues)</text>
<text x="371.6" y="262.7" text-anchor="end">(but not shown)</text>
</g>
<path d="M365 233.8 C364 205 360 170 352.4 137" fill="none" stroke="#1515ee" stroke-width="1.1" stroke-dasharray="2.6 2.45"/>
<path d="M349.2 128.0 L354.6 136.9 L352.2 135.8 L349.3 138.0 Z" fill="#1515ee"/>
<g font-family="Liberation Serif, serif" fill="#000">
<text x="204.4" y="352.3" font-size="19.6" font-style="italic">q</text>
<line x1="214.6" y1="356.9" x2="220.4" y2="340.2" stroke="#000" stroke-width="0.95"/>
<text x="222.3" y="352.3" font-size="19.6" font-style="italic">q</text>
<text x="231.8" y="355.2" font-size="14" textLength="17.2" lengthAdjust="spacingAndGlyphs">ext</text>
<g transform="translate(17.8,189.6) rotate(-90)">
<text x="0" y="0" font-size="20">Im</text>
<text x="21.9" y="0.6" font-size="22.8">(</text>
<text x="29.0" y="0" font-size="20" font-style="italic" textLength="11.2" lengthAdjust="spacingAndGlyphs">ω</text>
<text x="42.4" y="0" font-size="20" font-style="italic">r</text>
<text x="52.3" y="3.4" font-size="12.5" font-style="italic">c</text>
<text x="58.0" y="0.6" font-size="22.8">)</text>
</g>
</g>
</svg>
</body></html>
